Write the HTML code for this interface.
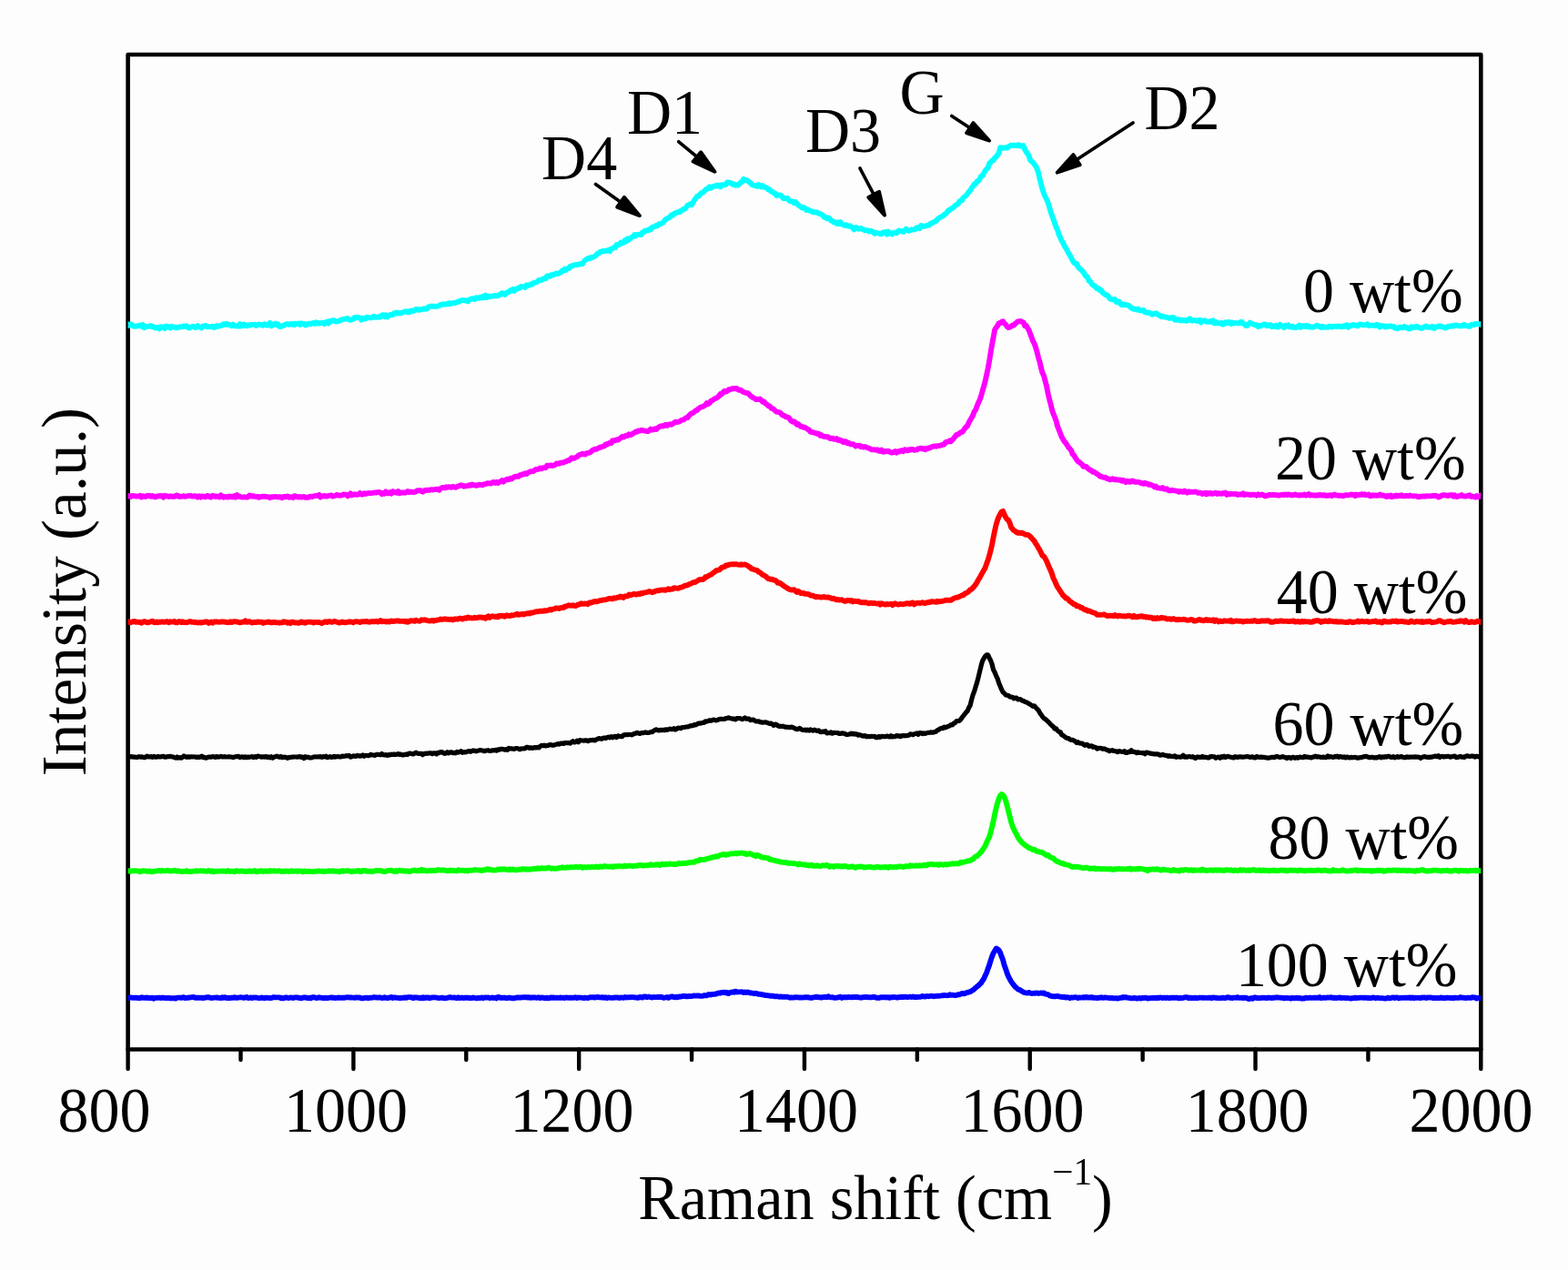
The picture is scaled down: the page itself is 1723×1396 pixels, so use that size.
<!DOCTYPE html>
<html lang="en">
<head>
<meta charset="utf-8">
<title>Raman spectra</title>
<style>
html,body{margin:0;padding:0;background:#fdfdfd;}
body{width:1723px;height:1396px;overflow:hidden;}
svg{display:block;}
text{font-family:"Liberation Serif",serif;fill:#000;}
.t{font-size:68px;}
.s{font-size:41px;}
</style>
</head>
<body>

<svg width="1723" height="1396" viewBox="0 0 1723 1396">
<rect x="0" y="0" width="1723" height="1396" fill="#fdfdfd"/>
<rect x="140.6" y="60.0" width="1486.7" height="1093.5" fill="none" stroke="#000" stroke-width="4.6" stroke-linejoin="round"/>
<clipPath id="clip"><rect x="140.6" y="60.0" width="1486.7" height="1093.5"/></clipPath>
<g clip-path="url(#clip)">
<path d="M137.6,1096.3 139.1,1096.7 140.6,1096.7 142.1,1097.0 143.6,1096.5 145.1,1096.7 146.6,1096.9 148.1,1096.7 149.6,1096.6 151.1,1097.0 152.6,1096.8 154.1,1097.1 155.6,1096.3 157.1,1096.8 158.6,1096.6 160.1,1097.0 161.6,1096.4 163.1,1097.0 164.6,1096.8 166.1,1097.0 167.6,1096.7 169.1,1097.7 170.6,1096.9 172.1,1096.9 173.6,1096.8 175.1,1096.6 176.6,1097.0 178.1,1096.7 179.6,1096.6 181.1,1097.0 182.6,1097.2 184.1,1097.0 185.6,1096.9 187.1,1097.3 188.6,1097.1 190.1,1097.3 191.6,1097.2 193.1,1097.6 194.6,1096.6 196.1,1096.6 197.6,1096.6 199.1,1096.8 200.6,1096.5 202.1,1096.2 203.6,1097.1 205.1,1096.9 206.6,1096.8 208.1,1096.5 209.6,1096.4 211.1,1096.1 212.6,1096.0 214.1,1096.7 215.6,1096.8 217.1,1096.7 218.6,1096.8 220.1,1096.9 221.6,1096.6 223.1,1097.1 224.6,1096.7 226.1,1096.6 227.6,1096.2 229.1,1096.2 230.6,1096.6 232.1,1097.0 233.6,1096.9 235.1,1096.6 236.6,1096.6 238.1,1096.5 239.6,1096.8 241.1,1096.9 242.6,1097.1 244.1,1096.2 245.6,1096.9 247.1,1096.2 248.6,1097.0 250.1,1097.0 251.6,1096.8 253.1,1097.1 254.6,1096.7 256.1,1096.8 257.6,1096.2 259.1,1096.9 260.6,1096.7 262.1,1096.6 263.6,1096.4 265.1,1096.3 266.6,1096.6 268.1,1096.9 269.6,1096.4 271.1,1096.0 272.6,1097.0 274.1,1096.8 275.6,1096.5 277.1,1097.1 278.6,1096.5 280.1,1096.7 281.6,1096.5 283.1,1096.9 284.6,1097.1 286.1,1097.0 287.6,1096.4 289.1,1097.0 290.6,1097.2 292.1,1096.6 293.6,1096.9 295.1,1096.8 296.6,1097.1 298.1,1097.0 299.6,1096.5 301.1,1096.2 302.6,1096.4 304.1,1096.4 305.6,1096.4 307.1,1096.4 308.6,1097.3 310.1,1097.0 311.6,1097.3 313.1,1096.7 314.6,1096.4 316.1,1096.8 317.6,1097.0 319.1,1096.5 320.6,1096.7 322.1,1097.0 323.6,1096.5 325.1,1096.4 326.6,1096.4 328.1,1096.9 329.6,1097.0 331.1,1097.3 332.6,1096.7 334.1,1096.5 335.6,1096.4 337.1,1096.8 338.6,1097.2 340.1,1096.7 341.6,1097.2 343.1,1096.2 344.6,1096.2 346.1,1096.4 347.6,1097.0 349.1,1096.9 350.6,1096.3 352.1,1096.6 353.6,1096.9 355.1,1097.2 356.6,1096.8 358.1,1097.0 359.6,1097.2 361.1,1096.8 362.6,1096.6 364.1,1096.4 365.6,1096.9 367.1,1096.7 368.6,1097.0 370.1,1096.9 371.6,1096.5 373.1,1096.8 374.6,1096.6 376.1,1096.8 377.6,1096.7 379.1,1096.7 380.6,1096.4 382.1,1096.1 383.6,1096.5 385.1,1096.3 386.6,1096.5 388.1,1096.6 389.6,1096.8 391.1,1096.4 392.6,1096.5 394.1,1096.7 395.6,1096.5 397.1,1097.3 398.6,1097.4 400.1,1097.0 401.6,1096.9 403.1,1096.6 404.6,1097.3 406.1,1096.8 407.6,1096.8 409.1,1096.6 410.6,1096.2 412.1,1096.3 413.6,1096.5 415.1,1096.7 416.6,1096.5 418.1,1096.5 419.6,1097.1 421.1,1096.9 422.6,1096.3 424.1,1096.9 425.6,1097.0 427.1,1096.8 428.6,1096.4 430.1,1096.0 431.6,1097.0 433.1,1096.5 434.6,1096.5 436.1,1096.9 437.6,1096.9 439.1,1097.2 440.6,1097.0 442.1,1096.8 443.6,1096.8 445.1,1096.4 446.6,1096.8 448.1,1096.1 449.6,1096.1 451.1,1096.2 452.6,1096.5 454.1,1097.2 455.6,1096.3 457.1,1096.5 458.6,1096.5 460.1,1097.0 461.6,1096.7 463.1,1097.3 464.6,1096.2 466.1,1097.2 467.6,1096.5 469.1,1096.8 470.6,1096.4 472.1,1097.3 473.6,1096.6 475.1,1096.5 476.6,1096.4 478.1,1096.4 479.6,1096.6 481.1,1096.9 482.6,1097.1 484.1,1096.9 485.6,1096.7 487.1,1097.1 488.6,1097.2 490.1,1097.1 491.6,1096.8 493.1,1096.4 494.6,1096.2 496.1,1096.6 497.6,1096.6 499.1,1096.5 500.6,1096.8 502.1,1097.2 503.6,1096.3 505.1,1097.0 506.6,1096.8 508.1,1096.7 509.6,1097.1 511.1,1096.7 512.6,1096.8 514.1,1096.7 515.6,1097.1 517.1,1096.9 518.6,1097.1 520.1,1096.5 521.6,1096.9 523.1,1097.2 524.6,1097.2 526.1,1096.8 527.6,1097.0 529.1,1096.5 530.6,1097.2 532.1,1096.6 533.6,1096.4 535.1,1096.6 536.6,1096.4 538.1,1097.0 539.6,1096.9 541.1,1096.5 542.6,1097.0 544.1,1096.6 545.6,1097.4 547.1,1096.0 548.6,1096.2 550.1,1097.0 551.6,1096.6 553.1,1096.8 554.6,1096.7 556.1,1097.1 557.6,1097.1 559.1,1096.7 560.6,1096.8 562.1,1097.3 563.6,1097.3 565.1,1097.2 566.6,1096.8 568.1,1096.5 569.6,1096.4 571.1,1096.7 572.6,1096.5 574.1,1096.4 575.6,1096.2 577.1,1096.3 578.6,1096.2 580.1,1096.6 581.6,1096.2 583.1,1096.8 584.6,1096.5 586.1,1096.3 587.6,1096.5 589.1,1096.7 590.6,1096.7 592.1,1096.3 593.6,1097.1 595.1,1096.5 596.6,1096.6 598.1,1097.1 599.6,1097.2 601.1,1096.6 602.6,1097.3 604.1,1096.9 605.6,1096.4 607.1,1096.8 608.6,1096.5 610.1,1096.9 611.6,1096.7 613.1,1096.9 614.6,1096.8 616.1,1096.5 617.6,1096.9 619.1,1096.7 620.6,1097.0 622.1,1096.5 623.6,1096.7 625.1,1096.8 626.6,1096.7 628.1,1096.7 629.6,1096.9 631.1,1096.5 632.6,1096.3 634.1,1097.0 635.6,1096.5 637.1,1096.6 638.6,1096.6 640.1,1096.9 641.6,1097.1 643.1,1096.6 644.6,1096.9 646.1,1097.0 647.6,1096.4 649.1,1096.2 650.6,1096.4 652.1,1096.2 653.6,1096.6 655.1,1096.2 656.6,1096.0 658.1,1096.3 659.6,1096.4 661.1,1096.6 662.6,1096.1 664.1,1096.8 665.6,1096.3 667.1,1097.0 668.6,1096.4 670.1,1096.7 671.6,1096.9 673.1,1096.7 674.6,1096.7 676.1,1096.5 677.6,1096.4 679.1,1096.5 680.6,1097.0 682.1,1096.5 683.6,1096.6 685.1,1096.8 686.6,1096.0 688.1,1096.5 689.6,1096.3 691.1,1096.4 692.6,1096.2 694.1,1096.1 695.6,1096.1 697.1,1096.4 698.6,1096.5 700.1,1096.7 701.6,1096.8 703.1,1095.9 704.6,1096.4 706.1,1096.5 707.6,1095.4 709.1,1095.4 710.6,1096.3 712.1,1095.8 713.6,1095.7 715.1,1096.2 716.6,1096.5 718.1,1096.0 719.6,1096.1 721.1,1096.1 722.6,1095.8 724.1,1096.2 725.6,1095.8 727.1,1096.0 728.6,1096.7 730.1,1096.7 731.6,1096.4 733.1,1096.0 734.6,1096.8 736.1,1096.0 737.6,1095.5 739.1,1095.4 740.6,1096.2 742.1,1096.4 743.6,1095.6 745.1,1096.2 746.6,1095.5 748.1,1095.6 749.6,1095.2 751.1,1094.8 752.6,1095.0 754.1,1095.3 755.6,1095.3 757.1,1095.0 758.6,1095.1 760.1,1095.0 761.6,1094.7 763.1,1094.5 764.6,1094.6 766.1,1094.5 767.6,1094.5 769.1,1094.8 770.6,1094.9 772.1,1094.8 773.6,1094.1 775.1,1094.2 776.6,1094.4 778.1,1093.3 779.6,1093.2 781.1,1093.5 782.6,1093.0 784.1,1092.9 785.6,1092.8 787.1,1092.4 788.6,1091.8 790.1,1091.5 791.6,1091.7 793.1,1091.0 794.6,1091.1 796.1,1090.7 797.6,1091.5 799.1,1090.9 800.6,1092.0 802.1,1090.9 803.6,1090.9 805.1,1090.4 806.6,1090.7 808.1,1089.7 809.6,1090.5 811.1,1090.4 812.6,1090.4 814.1,1090.4 815.6,1090.3 817.1,1091.0 818.6,1090.5 820.1,1091.0 821.6,1090.5 823.1,1091.0 824.6,1091.6 826.1,1091.5 827.6,1091.9 829.1,1092.2 830.6,1091.8 832.1,1092.3 833.6,1092.9 835.1,1092.8 836.6,1093.3 838.1,1093.3 839.6,1093.6 841.1,1094.1 842.6,1094.1 844.1,1094.4 845.6,1094.5 847.1,1094.8 848.6,1094.6 850.1,1095.0 851.6,1095.3 853.1,1095.1 854.6,1095.3 856.1,1095.8 857.6,1095.4 859.1,1095.7 860.6,1095.8 862.1,1095.6 863.6,1095.9 865.1,1095.7 866.6,1096.2 868.1,1096.7 869.6,1096.4 871.1,1096.6 872.6,1096.5 874.1,1096.1 875.6,1096.4 877.1,1096.3 878.6,1096.5 880.1,1096.5 881.6,1096.6 883.1,1096.4 884.6,1096.2 886.1,1096.1 887.6,1096.2 889.1,1096.6 890.6,1096.7 892.1,1096.8 893.6,1096.4 895.1,1096.2 896.6,1095.8 898.1,1095.9 899.6,1096.3 901.1,1096.3 902.6,1096.6 904.1,1096.1 905.6,1096.0 907.1,1096.0 908.6,1096.2 910.1,1095.2 911.6,1096.0 913.1,1096.4 914.6,1096.2 916.1,1096.6 917.6,1096.9 919.1,1096.6 920.6,1096.5 922.1,1096.1 923.6,1095.7 925.1,1096.9 926.6,1096.2 928.1,1096.2 929.6,1096.3 931.1,1096.3 932.6,1096.0 934.1,1096.1 935.6,1096.3 937.1,1096.0 938.6,1096.2 940.1,1095.9 941.6,1095.9 943.1,1096.4 944.6,1096.4 946.1,1096.7 947.6,1096.2 949.1,1096.2 950.6,1095.9 952.1,1096.0 953.6,1096.2 955.1,1096.3 956.6,1096.4 958.1,1096.3 959.6,1095.8 961.1,1096.0 962.6,1096.7 964.1,1096.6 965.6,1097.0 967.1,1096.5 968.6,1096.2 970.1,1096.2 971.6,1096.2 973.1,1096.2 974.6,1096.5 976.1,1096.1 977.6,1096.9 979.1,1096.2 980.6,1096.3 982.1,1096.0 983.6,1096.1 985.1,1096.5 986.6,1096.6 988.1,1095.9 989.6,1096.2 991.1,1095.7 992.6,1096.0 994.1,1095.8 995.6,1095.8 997.1,1096.1 998.6,1095.9 1000.1,1095.6 1001.6,1096.0 1003.1,1095.5 1004.6,1096.1 1006.1,1095.8 1007.6,1096.1 1009.1,1095.9 1010.6,1095.9 1012.1,1095.7 1013.6,1094.9 1015.1,1095.3 1016.6,1095.6 1018.1,1094.9 1019.6,1095.1 1021.1,1095.2 1022.6,1094.9 1024.1,1094.8 1025.6,1095.2 1027.1,1095.1 1028.6,1094.8 1030.1,1094.6 1031.6,1094.9 1033.1,1094.6 1034.6,1094.4 1036.1,1094.3 1037.6,1094.0 1039.1,1094.1 1040.6,1094.4 1042.1,1094.2 1043.6,1093.3 1045.1,1093.9 1046.6,1093.8 1048.1,1093.9 1049.6,1094.2 1051.1,1093.9 1052.6,1093.3 1054.1,1093.3 1055.6,1092.6 1057.1,1091.9 1058.6,1092.4 1060.1,1092.1 1061.6,1091.3 1063.1,1091.0 1064.6,1090.4 1066.1,1090.3 1067.6,1089.1 1069.1,1088.3 1070.6,1087.2 1072.1,1085.7 1073.6,1084.4 1075.1,1083.5 1076.6,1081.8 1078.1,1080.5 1079.6,1078.0 1081.1,1075.8 1082.6,1072.4 1084.1,1069.3 1085.6,1064.9 1087.1,1060.9 1088.6,1055.9 1090.1,1051.4 1091.6,1047.7 1093.1,1045.3 1094.6,1042.6 1096.1,1043.2 1097.6,1044.5 1099.1,1047.2 1100.6,1051.4 1102.1,1055.2 1103.6,1060.9 1105.1,1065.1 1106.6,1069.6 1108.1,1073.3 1109.6,1076.1 1111.1,1078.9 1112.6,1081.0 1114.1,1083.0 1115.6,1084.7 1117.1,1086.0 1118.6,1087.5 1120.1,1087.8 1121.6,1088.8 1123.1,1089.6 1124.6,1090.7 1126.1,1091.1 1127.6,1091.4 1129.1,1091.6 1130.6,1090.9 1132.1,1091.6 1133.6,1092.0 1135.1,1091.9 1136.6,1091.8 1138.1,1091.7 1139.6,1091.5 1141.1,1092.0 1142.6,1091.6 1144.1,1091.4 1145.6,1091.8 1147.1,1091.4 1148.6,1092.6 1150.1,1092.9 1151.6,1093.1 1153.1,1094.3 1154.6,1094.7 1156.1,1095.1 1157.6,1095.3 1159.1,1095.2 1160.6,1095.2 1162.1,1094.9 1163.6,1095.4 1165.1,1095.7 1166.6,1095.7 1168.1,1096.2 1169.6,1095.8 1171.1,1096.5 1172.6,1096.2 1174.1,1096.4 1175.6,1097.2 1177.1,1096.5 1178.6,1096.7 1180.1,1096.4 1181.6,1096.2 1183.1,1096.4 1184.6,1097.1 1186.1,1096.4 1187.6,1096.6 1189.1,1096.6 1190.6,1096.2 1192.1,1096.6 1193.6,1095.8 1195.1,1096.5 1196.6,1096.3 1198.1,1096.6 1199.6,1096.1 1201.1,1096.7 1202.6,1096.8 1204.1,1096.8 1205.6,1097.1 1207.1,1096.6 1208.6,1096.7 1210.1,1096.2 1211.6,1096.7 1213.1,1096.7 1214.6,1096.4 1216.1,1096.7 1217.6,1096.9 1219.1,1097.0 1220.6,1097.1 1222.1,1097.0 1223.6,1097.3 1225.1,1097.4 1226.6,1097.2 1228.1,1097.5 1229.6,1097.3 1231.1,1096.8 1232.6,1096.9 1234.1,1096.0 1235.6,1096.5 1237.1,1096.2 1238.6,1096.6 1240.1,1096.9 1241.6,1097.0 1243.1,1097.4 1244.6,1097.4 1246.1,1096.8 1247.6,1097.2 1249.1,1097.6 1250.6,1097.3 1252.1,1097.0 1253.6,1097.5 1255.1,1096.8 1256.6,1097.1 1258.1,1096.8 1259.6,1096.8 1261.1,1097.5 1262.6,1097.2 1264.1,1097.2 1265.6,1097.0 1267.1,1097.0 1268.6,1096.8 1270.1,1097.1 1271.6,1096.7 1273.1,1097.1 1274.6,1096.5 1276.1,1096.7 1277.6,1097.0 1279.1,1096.6 1280.6,1097.0 1282.1,1096.7 1283.6,1096.8 1285.1,1097.2 1286.6,1096.7 1288.1,1096.7 1289.6,1096.7 1291.1,1096.7 1292.6,1096.8 1294.1,1096.8 1295.6,1097.4 1297.1,1096.8 1298.6,1097.1 1300.1,1096.8 1301.6,1096.4 1303.1,1096.2 1304.6,1096.2 1306.1,1097.1 1307.6,1096.6 1309.1,1097.1 1310.6,1097.0 1312.1,1097.1 1313.6,1096.7 1315.1,1097.2 1316.6,1097.0 1318.1,1096.6 1319.6,1096.6 1321.1,1096.8 1322.6,1096.8 1324.1,1096.9 1325.6,1096.9 1327.1,1096.9 1328.6,1096.7 1330.1,1096.6 1331.6,1097.2 1333.1,1096.5 1334.6,1096.7 1336.1,1096.7 1337.6,1097.1 1339.1,1097.1 1340.6,1097.1 1342.1,1097.0 1343.6,1096.7 1345.1,1097.0 1346.6,1097.1 1348.1,1096.4 1349.6,1096.2 1351.1,1096.8 1352.6,1096.8 1354.1,1097.1 1355.6,1096.6 1357.1,1096.6 1358.6,1096.7 1360.1,1096.1 1361.6,1096.8 1363.1,1096.9 1364.6,1096.7 1366.1,1097.1 1367.6,1096.6 1369.1,1096.9 1370.6,1097.4 1372.1,1098.1 1373.6,1097.6 1375.1,1097.1 1376.6,1097.7 1378.1,1096.4 1379.6,1096.4 1381.1,1097.1 1382.6,1097.0 1384.1,1097.1 1385.6,1097.0 1387.1,1096.6 1388.6,1096.9 1390.1,1096.8 1391.6,1097.1 1393.1,1096.7 1394.6,1096.8 1396.1,1096.9 1397.6,1097.0 1399.1,1096.7 1400.6,1096.7 1402.1,1096.5 1403.6,1096.3 1405.1,1096.6 1406.6,1096.6 1408.1,1096.9 1409.6,1096.9 1411.1,1097.4 1412.6,1097.1 1414.1,1096.9 1415.6,1097.1 1417.1,1097.1 1418.6,1097.6 1420.1,1096.7 1421.6,1097.2 1423.1,1097.2 1424.6,1096.8 1426.1,1097.3 1427.6,1096.9 1429.1,1097.4 1430.6,1097.7 1432.1,1097.3 1433.6,1097.5 1435.1,1096.6 1436.6,1097.0 1438.1,1096.9 1439.6,1096.6 1441.1,1096.9 1442.6,1096.9 1444.1,1096.6 1445.6,1096.9 1447.1,1096.6 1448.6,1096.8 1450.1,1096.1 1451.6,1097.1 1453.1,1096.8 1454.6,1096.7 1456.1,1096.6 1457.6,1096.7 1459.1,1096.5 1460.6,1096.6 1462.1,1096.3 1463.6,1096.4 1465.1,1097.0 1466.6,1096.7 1468.1,1097.1 1469.6,1096.8 1471.1,1096.8 1472.6,1096.5 1474.1,1097.1 1475.6,1096.9 1477.1,1096.9 1478.6,1097.1 1480.1,1097.0 1481.6,1097.1 1483.1,1097.3 1484.6,1097.5 1486.1,1097.2 1487.6,1097.1 1489.1,1096.7 1490.6,1097.1 1492.1,1096.9 1493.6,1096.8 1495.1,1096.6 1496.6,1096.6 1498.1,1096.8 1499.6,1096.8 1501.1,1096.6 1502.6,1097.0 1504.1,1097.0 1505.6,1097.1 1507.1,1097.0 1508.6,1096.5 1510.1,1096.7 1511.6,1097.2 1513.1,1096.8 1514.6,1096.9 1516.1,1097.1 1517.6,1097.1 1519.1,1097.2 1520.6,1097.4 1522.1,1097.6 1523.6,1097.3 1525.1,1096.6 1526.6,1097.3 1528.1,1097.1 1529.6,1096.7 1531.1,1096.4 1532.6,1097.1 1534.1,1096.5 1535.6,1096.5 1537.1,1097.3 1538.6,1096.9 1540.1,1096.9 1541.6,1096.8 1543.1,1096.9 1544.6,1096.6 1546.1,1096.7 1547.6,1096.8 1549.1,1096.4 1550.6,1097.1 1552.1,1096.4 1553.6,1097.3 1555.1,1096.6 1556.6,1096.9 1558.1,1096.9 1559.6,1096.8 1561.1,1097.1 1562.6,1096.5 1564.1,1096.7 1565.6,1096.5 1567.1,1097.0 1568.6,1096.4 1570.1,1096.6 1571.6,1096.5 1573.1,1096.7 1574.6,1097.0 1576.1,1097.0 1577.6,1097.0 1579.1,1097.1 1580.6,1097.0 1582.1,1097.0 1583.6,1096.4 1585.1,1097.2 1586.6,1096.8 1588.1,1097.2 1589.6,1096.7 1591.1,1096.8 1592.6,1096.9 1594.1,1097.0 1595.6,1096.9 1597.1,1097.2 1598.6,1096.6 1600.1,1096.9 1601.6,1096.9 1603.1,1096.9 1604.6,1096.2 1606.1,1096.5 1607.6,1096.7 1609.1,1096.8 1610.6,1097.0 1612.1,1096.8 1613.6,1096.6 1615.1,1096.8 1616.6,1096.9 1618.1,1096.1 1619.6,1096.5 1621.1,1096.5 1622.6,1097.5 1624.1,1096.9 1625.6,1097.1 1627.1,1097.3 1628.6,1096.8 1630.1,1096.9" fill="none" stroke="#0000ff" stroke-width="5.9" stroke-linejoin="round" stroke-linecap="butt"/>
<path d="M137.6,957.8 139.1,957.7 140.6,957.1 142.1,957.5 143.6,957.8 145.1,957.1 146.6,957.3 148.1,957.1 149.6,957.1 151.1,957.5 152.6,957.6 154.1,958.2 155.6,957.6 157.1,957.1 158.6,957.3 160.1,957.4 161.6,957.8 163.1,957.9 164.6,957.4 166.1,958.2 167.6,958.2 169.1,957.9 170.6,957.7 172.1,957.3 173.6,957.2 175.1,956.9 176.6,957.5 178.1,956.8 179.6,957.4 181.1,957.4 182.6,957.2 184.1,956.7 185.6,957.2 187.1,957.5 188.6,957.3 190.1,957.4 191.6,956.8 193.1,957.3 194.6,957.6 196.1,957.2 197.6,957.7 199.1,958.0 200.6,958.0 202.1,957.9 203.6,957.8 205.1,957.1 206.6,958.1 208.1,957.8 209.6,958.2 211.1,957.8 212.6,957.6 214.1,957.6 215.6,957.2 217.1,957.6 218.6,957.4 220.1,957.3 221.6,957.4 223.1,957.1 224.6,957.6 226.1,957.6 227.6,957.7 229.1,957.0 230.6,957.3 232.1,958.0 233.6,957.2 235.1,958.2 236.6,957.7 238.1,957.8 239.6,957.6 241.1,957.6 242.6,957.4 244.1,957.6 245.6,957.5 247.1,957.7 248.6,957.8 250.1,957.0 251.6,957.7 253.1,957.8 254.6,957.6 256.1,957.9 257.6,958.2 259.1,957.2 260.6,957.2 262.1,957.7 263.6,957.6 265.1,957.4 266.6,957.5 268.1,957.8 269.6,958.1 271.1,957.6 272.6,957.7 274.1,957.3 275.6,957.9 277.1,957.9 278.6,957.4 280.1,957.0 281.6,958.3 283.1,958.2 284.6,957.5 286.1,957.5 287.6,957.2 289.1,958.0 290.6,957.4 292.1,957.7 293.6,957.5 295.1,957.8 296.6,957.0 298.1,957.6 299.6,957.3 301.1,957.1 302.6,957.6 304.1,957.5 305.6,957.3 307.1,957.2 308.6,957.9 310.1,958.1 311.6,957.7 313.1,957.8 314.6,957.5 316.1,957.7 317.6,958.0 319.1,957.6 320.6,957.2 322.1,957.9 323.6,957.7 325.1,957.5 326.6,957.8 328.1,957.5 329.6,957.6 331.1,957.4 332.6,958.4 334.1,957.8 335.6,957.5 337.1,958.0 338.6,957.8 340.1,957.8 341.6,958.0 343.1,958.2 344.6,958.0 346.1,957.8 347.6,957.8 349.1,957.4 350.6,957.5 352.1,957.7 353.6,957.9 355.1,957.5 356.6,958.0 358.1,957.9 359.6,957.7 361.1,957.2 362.6,957.5 364.1,957.6 365.6,957.1 367.1,957.6 368.6,957.7 370.1,957.9 371.6,957.8 373.1,958.4 374.6,957.6 376.1,957.1 377.6,957.7 379.1,957.3 380.6,957.1 382.1,957.2 383.6,957.1 385.1,957.8 386.6,958.2 388.1,957.5 389.6,957.9 391.1,957.7 392.6,957.1 394.1,956.9 395.6,958.1 397.1,958.0 398.6,956.9 400.1,957.1 401.6,956.9 403.1,957.7 404.6,957.7 406.1,957.8 407.6,957.7 409.1,958.2 410.6,957.5 412.1,957.4 413.6,956.8 415.1,957.0 416.6,957.1 418.1,956.8 419.6,957.5 421.1,957.8 422.6,958.0 424.1,957.8 425.6,957.1 427.1,957.0 428.6,956.9 430.1,956.6 431.6,957.5 433.1,957.8 434.6,957.0 436.1,958.0 437.6,957.0 439.1,956.7 440.6,957.3 442.1,957.2 443.6,957.5 445.1,957.2 446.6,957.7 448.1,957.3 449.6,958.0 451.1,957.8 452.6,957.0 454.1,956.9 455.6,956.5 457.1,957.2 458.6,957.3 460.1,956.6 461.6,957.2 463.1,955.9 464.6,957.1 466.1,956.4 467.6,957.2 469.1,957.2 470.6,957.4 472.1,956.8 473.6,957.3 475.1,956.9 476.6,956.8 478.1,957.1 479.6,957.0 481.1,956.0 482.6,956.4 484.1,956.5 485.6,956.7 487.1,956.3 488.6,956.5 490.1,957.1 491.6,957.2 493.1,957.2 494.6,956.4 496.1,957.1 497.6,956.7 499.1,957.2 500.6,957.4 502.1,957.4 503.6,956.2 505.1,956.6 506.6,956.8 508.1,956.6 509.6,956.9 511.1,957.3 512.6,956.8 514.1,957.5 515.6,956.7 517.1,956.7 518.6,956.7 520.1,956.4 521.6,956.0 523.1,956.3 524.6,956.4 526.1,956.6 527.6,956.3 529.1,957.0 530.6,956.3 532.1,956.6 533.6,956.1 535.1,955.3 536.6,955.2 538.1,956.2 539.6,955.9 541.1,956.5 542.6,956.4 544.1,956.6 545.6,956.4 547.1,955.5 548.6,955.9 550.1,955.3 551.6,955.8 553.1,955.2 554.6,955.4 556.1,955.9 557.6,955.9 559.1,956.3 560.6,955.4 562.1,956.3 563.6,955.4 565.1,956.2 566.6,956.1 568.1,956.2 569.6,956.1 571.1,955.6 572.6,955.8 574.1,955.0 575.6,955.5 577.1,955.1 578.6,955.8 580.1,955.3 581.6,955.7 583.1,955.6 584.6,955.1 586.1,955.1 587.6,954.9 589.1,955.1 590.6,954.2 592.1,954.9 593.6,954.9 595.1,954.0 596.6,954.6 598.1,954.5 599.6,954.3 601.1,954.5 602.6,953.6 604.1,954.1 605.6,954.8 607.1,954.5 608.6,954.7 610.1,954.6 611.6,954.7 613.1,954.5 614.6,953.8 616.1,954.1 617.6,953.3 619.1,953.7 620.6,953.6 622.1,953.8 623.6,953.3 625.1,953.5 626.6,953.3 628.1,953.3 629.6,953.4 631.1,953.4 632.6,952.6 634.1,953.1 635.6,953.2 637.1,952.7 638.6,952.8 640.1,953.9 641.6,953.0 643.1,953.5 644.6,953.3 646.1,953.0 647.6,953.3 649.1,953.2 650.6,952.9 652.1,953.2 653.6,953.1 655.1,952.5 656.6,953.0 658.1,953.3 659.6,952.4 661.1,952.9 662.6,952.9 664.1,952.0 665.6,952.3 667.1,952.5 668.6,952.7 670.1,952.6 671.6,952.4 673.1,953.2 674.6,952.1 676.1,952.6 677.6,952.1 679.1,952.3 680.6,952.0 682.1,952.1 683.6,952.3 685.1,952.4 686.6,951.5 688.1,952.3 689.6,951.7 691.1,951.8 692.6,951.7 694.1,951.6 695.6,952.3 697.1,951.8 698.6,951.7 700.1,951.6 701.6,951.1 703.1,950.9 704.6,951.0 706.1,951.7 707.6,951.4 709.1,951.2 710.6,951.1 712.1,951.4 713.6,950.9 715.1,950.2 716.6,950.9 718.1,950.8 719.6,950.5 721.1,950.6 722.6,950.2 724.1,950.6 725.6,951.1 727.1,949.8 728.6,949.8 730.1,950.4 731.6,949.6 733.1,950.2 734.6,949.9 736.1,949.4 737.6,949.9 739.1,949.9 740.6,949.6 742.1,950.2 743.6,949.8 745.1,949.2 746.6,948.8 748.1,949.1 749.6,949.0 751.1,948.8 752.6,949.0 754.1,948.9 755.6,948.4 757.1,948.3 758.6,947.9 760.1,947.9 761.6,947.7 763.1,947.7 764.6,946.4 766.1,946.3 767.6,946.1 769.1,944.9 770.6,944.8 772.1,945.0 773.6,945.1 775.1,944.4 776.6,944.1 778.1,943.7 779.6,943.2 781.1,942.9 782.6,942.3 784.1,942.0 785.6,941.9 787.1,941.1 788.6,941.6 790.1,940.6 791.6,939.9 793.1,939.7 794.6,939.1 796.1,939.0 797.6,939.9 799.1,939.3 800.6,939.0 802.1,938.7 803.6,938.3 805.1,938.4 806.6,938.3 808.1,937.6 809.6,938.5 811.1,937.6 812.6,937.8 814.1,937.6 815.6,937.4 817.1,938.0 818.6,937.9 820.1,939.1 821.6,938.6 823.1,938.5 824.6,938.2 826.1,939.1 827.6,940.1 829.1,940.2 830.6,941.2 832.1,939.7 833.6,940.6 835.1,941.2 836.6,942.1 838.1,942.5 839.6,942.8 841.1,942.8 842.6,943.3 844.1,943.2 845.6,944.7 847.1,944.7 848.6,945.3 850.1,945.6 851.6,946.0 853.1,946.6 854.6,946.5 856.1,947.0 857.6,947.6 859.1,947.5 860.6,947.9 862.1,948.2 863.6,947.8 865.1,948.7 866.6,948.6 868.1,948.9 869.6,948.9 871.1,949.2 872.6,949.0 874.1,949.4 875.6,949.7 877.1,950.5 878.6,949.3 880.1,950.0 881.6,950.4 883.1,950.5 884.6,950.3 886.1,951.0 887.6,951.0 889.1,951.6 890.6,950.9 892.1,950.7 893.6,951.8 895.1,951.8 896.6,951.9 898.1,951.3 899.6,951.9 901.1,952.1 902.6,951.8 904.1,951.1 905.6,951.5 907.1,951.3 908.6,950.8 910.1,951.7 911.6,952.7 913.1,952.1 914.6,952.2 916.1,952.9 917.6,951.9 919.1,951.9 920.6,952.0 922.1,952.0 923.6,952.5 925.1,952.2 926.6,952.6 928.1,951.8 929.6,952.3 931.1,952.8 932.6,953.1 934.1,952.6 935.6,952.9 937.1,952.3 938.6,953.1 940.1,953.9 941.6,952.9 943.1,952.7 944.6,952.7 946.1,952.5 947.6,952.7 949.1,953.5 950.6,953.2 952.1,953.4 953.6,953.1 955.1,952.9 956.6,952.9 958.1,953.3 959.6,953.6 961.1,953.5 962.6,953.0 964.1,953.0 965.6,953.2 967.1,953.5 968.6,953.3 970.1,953.1 971.6,953.3 973.1,952.9 974.6,953.3 976.1,953.7 977.6,952.7 979.1,953.0 980.6,953.1 982.1,953.2 983.6,953.0 985.1,953.4 986.6,952.7 988.1,952.4 989.6,952.4 991.1,952.7 992.6,953.0 994.1,952.7 995.6,952.0 997.1,952.4 998.6,952.4 1000.1,951.2 1001.6,952.0 1003.1,951.6 1004.6,951.8 1006.1,951.5 1007.6,951.5 1009.1,951.8 1010.6,951.2 1012.1,951.7 1013.6,951.2 1015.1,951.2 1016.6,950.6 1018.1,951.3 1019.6,950.3 1021.1,950.2 1022.6,949.9 1024.1,949.9 1025.6,950.3 1027.1,950.4 1028.6,950.4 1030.1,950.1 1031.6,950.9 1033.1,949.9 1034.6,950.3 1036.1,950.8 1037.6,950.2 1039.1,950.2 1040.6,950.5 1042.1,950.2 1043.6,949.7 1045.1,949.6 1046.6,949.2 1048.1,949.5 1049.6,949.3 1051.1,949.2 1052.6,949.5 1054.1,949.1 1055.6,947.7 1057.1,948.1 1058.6,947.6 1060.1,947.4 1061.6,947.1 1063.1,946.5 1064.6,946.2 1066.1,946.0 1067.6,944.9 1069.1,944.3 1070.6,942.8 1072.1,941.5 1073.6,941.2 1075.1,939.6 1076.6,937.9 1078.1,936.5 1079.6,934.3 1081.1,932.1 1082.6,929.8 1084.1,926.1 1085.6,922.9 1087.1,920.1 1088.6,914.8 1090.1,908.9 1091.6,902.5 1093.1,895.0 1094.6,888.3 1096.1,882.6 1097.6,877.8 1099.1,874.6 1100.6,873.0 1102.1,874.0 1103.6,876.1 1105.1,879.9 1106.6,885.5 1108.1,891.6 1109.6,897.5 1111.1,903.6 1112.6,908.3 1114.1,911.6 1115.6,914.6 1117.1,917.2 1118.6,920.6 1120.1,922.7 1121.6,924.5 1123.1,926.2 1124.6,927.5 1126.1,928.8 1127.6,929.9 1129.1,930.8 1130.6,932.1 1132.1,932.4 1133.6,933.3 1135.1,934.2 1136.6,933.8 1138.1,935.1 1139.6,935.8 1141.1,935.9 1142.6,936.8 1144.1,936.8 1145.6,937.2 1147.1,938.3 1148.6,939.2 1150.1,940.2 1151.6,939.7 1153.1,941.5 1154.6,942.4 1156.1,943.0 1157.6,943.6 1159.1,945.2 1160.6,946.3 1162.1,947.1 1163.6,947.7 1165.1,948.4 1166.6,949.0 1168.1,948.9 1169.6,950.1 1171.1,950.3 1172.6,950.6 1174.1,950.9 1175.6,951.7 1177.1,952.4 1178.6,953.0 1180.1,952.5 1181.6,953.1 1183.1,952.9 1184.6,952.8 1186.1,953.3 1187.6,953.5 1189.1,954.0 1190.6,954.4 1192.1,953.7 1193.6,953.8 1195.1,953.7 1196.6,954.7 1198.1,954.6 1199.6,954.7 1201.1,954.8 1202.6,954.3 1204.1,955.3 1205.6,954.9 1207.1,955.0 1208.6,954.9 1210.1,955.4 1211.6,955.1 1213.1,955.0 1214.6,955.4 1216.1,955.2 1217.6,955.3 1219.1,955.4 1220.6,955.0 1222.1,955.8 1223.6,955.7 1225.1,955.1 1226.6,955.6 1228.1,955.2 1229.6,954.9 1231.1,955.1 1232.6,955.4 1234.1,955.2 1235.6,955.4 1237.1,955.4 1238.6,955.0 1240.1,955.4 1241.6,954.6 1243.1,955.7 1244.6,955.1 1246.1,955.2 1247.6,955.5 1249.1,955.0 1250.6,955.5 1252.1,954.7 1253.6,955.0 1255.1,955.1 1256.6,955.3 1258.1,956.0 1259.6,955.9 1261.1,957.1 1262.6,955.7 1264.1,955.8 1265.6,955.5 1267.1,955.4 1268.6,955.7 1270.1,955.6 1271.6,955.1 1273.1,955.8 1274.6,956.3 1276.1,956.6 1277.6,955.7 1279.1,955.8 1280.6,956.2 1282.1,956.4 1283.6,956.4 1285.1,956.6 1286.6,957.1 1288.1,957.0 1289.6,956.0 1291.1,956.7 1292.6,957.0 1294.1,957.0 1295.6,957.6 1297.1,956.5 1298.6,956.2 1300.1,956.7 1301.6,956.2 1303.1,956.0 1304.6,956.2 1306.1,956.7 1307.6,956.6 1309.1,956.1 1310.6,957.0 1312.1,956.3 1313.6,956.8 1315.1,956.6 1316.6,956.6 1318.1,956.5 1319.6,956.9 1321.1,955.5 1322.6,956.7 1324.1,956.4 1325.6,957.0 1327.1,956.9 1328.6,956.5 1330.1,956.5 1331.6,956.5 1333.1,956.8 1334.6,956.5 1336.1,956.1 1337.6,956.8 1339.1,956.2 1340.6,956.7 1342.1,956.4 1343.6,956.9 1345.1,957.0 1346.6,956.3 1348.1,956.3 1349.6,956.4 1351.1,956.5 1352.6,956.3 1354.1,956.9 1355.6,957.2 1357.1,956.5 1358.6,956.9 1360.1,957.0 1361.6,956.7 1363.1,956.0 1364.6,956.8 1366.1,956.1 1367.6,956.6 1369.1,956.7 1370.6,956.9 1372.1,956.4 1373.6,957.0 1375.1,956.4 1376.6,956.1 1378.1,956.0 1379.6,956.9 1381.1,956.9 1382.6,956.9 1384.1,956.3 1385.6,957.0 1387.1,956.9 1388.6,956.4 1390.1,957.0 1391.6,956.7 1393.1,956.9 1394.6,957.4 1396.1,956.8 1397.6,957.0 1399.1,956.5 1400.6,957.1 1402.1,956.7 1403.6,957.2 1405.1,957.0 1406.6,956.7 1408.1,956.5 1409.6,956.9 1411.1,956.5 1412.6,956.8 1414.1,957.4 1415.6,956.9 1417.1,956.6 1418.6,956.5 1420.1,956.8 1421.6,956.8 1423.1,956.6 1424.6,957.0 1426.1,957.4 1427.6,956.4 1429.1,956.7 1430.6,956.6 1432.1,956.9 1433.6,957.4 1435.1,957.1 1436.6,956.9 1438.1,956.8 1439.6,956.9 1441.1,956.7 1442.6,957.1 1444.1,957.0 1445.6,956.8 1447.1,956.9 1448.6,956.4 1450.1,956.6 1451.6,957.0 1453.1,957.1 1454.6,956.6 1456.1,956.5 1457.6,957.1 1459.1,957.2 1460.6,957.2 1462.1,957.5 1463.6,957.3 1465.1,956.1 1466.6,957.1 1468.1,956.9 1469.6,957.2 1471.1,957.4 1472.6,957.0 1474.1,957.0 1475.6,956.2 1477.1,956.9 1478.6,957.3 1480.1,957.5 1481.6,957.4 1483.1,957.4 1484.6,956.8 1486.1,957.1 1487.6,956.5 1489.1,956.7 1490.6,956.3 1492.1,957.3 1493.6,956.7 1495.1,956.6 1496.6,956.8 1498.1,957.0 1499.6,957.3 1501.1,957.1 1502.6,957.0 1504.1,957.1 1505.6,957.0 1507.1,957.8 1508.6,956.9 1510.1,957.4 1511.6,957.3 1513.1,956.7 1514.6,957.1 1516.1,956.6 1517.6,956.9 1519.1,956.8 1520.6,957.8 1522.1,957.1 1523.6,957.2 1525.1,956.6 1526.6,956.6 1528.1,956.8 1529.6,956.8 1531.1,956.5 1532.6,956.6 1534.1,956.4 1535.6,957.1 1537.1,956.5 1538.6,956.9 1540.1,957.0 1541.6,956.7 1543.1,956.6 1544.6,957.0 1546.1,957.4 1547.6,956.7 1549.1,957.1 1550.6,957.0 1552.1,957.4 1553.6,957.1 1555.1,957.8 1556.6,956.7 1558.1,957.0 1559.6,957.1 1561.1,956.5 1562.6,955.9 1564.1,956.8 1565.6,956.8 1567.1,957.5 1568.6,957.5 1570.1,957.2 1571.6,957.4 1573.1,957.0 1574.6,956.7 1576.1,956.6 1577.6,956.6 1579.1,956.8 1580.6,956.9 1582.1,957.2 1583.6,957.5 1585.1,956.9 1586.6,957.0 1588.1,957.2 1589.6,956.7 1591.1,957.0 1592.6,957.6 1594.1,957.3 1595.6,957.5 1597.1,956.8 1598.6,956.6 1600.1,956.6 1601.6,957.2 1603.1,957.7 1604.6,956.8 1606.1,956.9 1607.6,957.0 1609.1,957.3 1610.6,957.0 1612.1,957.3 1613.6,957.5 1615.1,956.8 1616.6,957.0 1618.1,957.0 1619.6,956.9 1621.1,956.5 1622.6,957.4 1624.1,956.8 1625.6,957.2 1627.1,957.4 1628.6,957.1 1630.1,957.4" fill="none" stroke="#00ff00" stroke-width="5.9" stroke-linejoin="round" stroke-linecap="butt"/>
<path d="M137.6,832.7 139.1,832.9 140.6,832.2 142.1,832.0 143.6,831.6 145.1,831.8 146.6,832.2 148.1,832.2 149.6,832.3 151.1,832.3 152.6,831.7 154.1,832.1 155.6,831.9 157.1,832.2 158.6,832.7 160.1,832.2 161.6,831.1 163.1,831.8 164.6,831.8 166.1,831.7 167.6,832.4 169.1,831.4 170.6,832.2 172.1,832.1 173.6,831.5 175.1,832.0 176.6,831.8 178.1,831.7 179.6,831.3 181.1,832.1 182.6,832.2 184.1,831.6 185.6,831.7 187.1,831.4 188.6,831.7 190.1,832.0 191.6,832.6 193.1,833.1 194.6,832.0 196.1,833.1 197.6,832.7 199.1,833.2 200.6,832.3 202.1,831.0 203.6,831.8 205.1,832.3 206.6,831.8 208.1,832.3 209.6,831.8 211.1,831.8 212.6,832.0 214.1,831.8 215.6,832.5 217.1,832.0 218.6,832.5 220.1,832.2 221.6,831.1 223.1,832.6 224.6,832.4 226.1,833.2 227.6,832.7 229.1,832.0 230.6,832.2 232.1,832.2 233.6,831.6 235.1,831.8 236.6,832.4 238.1,831.5 239.6,832.1 241.1,832.0 242.6,831.3 244.1,832.0 245.6,831.8 247.1,831.7 248.6,832.0 250.1,832.0 251.6,831.7 253.1,832.0 254.6,832.1 256.1,832.7 257.6,832.1 259.1,831.7 260.6,831.6 262.1,831.3 263.6,832.6 265.1,832.1 266.6,831.8 268.1,832.6 269.6,831.8 271.1,832.7 272.6,832.1 274.1,832.4 275.6,831.9 277.1,831.5 278.6,832.6 280.1,831.6 281.6,832.3 283.1,831.2 284.6,831.4 286.1,831.7 287.6,832.2 289.1,831.8 290.6,832.1 292.1,831.5 293.6,832.5 295.1,831.9 296.6,832.9 298.1,831.8 299.6,833.2 301.1,832.2 302.6,831.7 304.1,831.1 305.6,831.8 307.1,832.3 308.6,831.5 310.1,832.6 311.6,832.4 313.1,832.2 314.6,832.6 316.1,833.3 317.6,832.4 319.1,832.6 320.6,832.1 322.1,832.1 323.6,832.0 325.1,832.0 326.6,832.2 328.1,831.8 329.6,831.6 331.1,832.4 332.6,832.1 334.1,833.5 335.6,831.7 337.1,832.5 338.6,832.2 340.1,832.8 341.6,833.0 343.1,832.7 344.6,832.0 346.1,831.9 347.6,832.0 349.1,831.9 350.6,831.9 352.1,831.7 353.6,832.3 355.1,831.6 356.6,832.0 358.1,831.2 359.6,832.7 361.1,832.3 362.6,831.7 364.1,832.3 365.6,832.1 367.1,831.3 368.6,832.2 370.1,831.6 371.6,831.6 373.1,832.0 374.6,831.8 376.1,831.1 377.6,831.4 379.1,831.1 380.6,830.7 382.1,830.9 383.6,830.4 385.1,832.1 386.6,831.8 388.1,830.9 389.6,831.1 391.1,831.5 392.6,830.4 394.1,830.7 395.6,831.2 397.1,830.8 398.6,830.0 400.1,831.3 401.6,830.4 403.1,830.5 404.6,830.7 406.1,830.2 407.6,829.3 409.1,830.0 410.6,830.0 412.1,830.4 413.6,829.4 415.1,829.3 416.6,829.5 418.1,829.8 419.6,828.5 421.1,829.6 422.6,829.9 424.1,829.7 425.6,830.4 427.1,829.6 428.6,829.9 430.1,829.2 431.6,829.5 433.1,829.0 434.6,829.5 436.1,829.2 437.6,828.5 439.1,829.4 440.6,829.2 442.1,829.8 443.6,829.8 445.1,829.3 446.6,829.1 448.1,829.3 449.6,828.1 451.1,828.1 452.6,828.6 454.1,828.8 455.6,828.1 457.1,827.2 458.6,828.2 460.1,828.3 461.6,828.3 463.1,828.4 464.6,829.7 466.1,828.3 467.6,828.4 469.1,828.2 470.6,828.1 472.1,827.8 473.6,827.8 475.1,828.7 476.6,827.8 478.1,827.9 479.6,828.9 481.1,827.3 482.6,827.6 484.1,826.7 485.6,826.5 487.1,827.7 488.6,828.4 490.1,827.8 491.6,826.7 493.1,827.9 494.6,826.9 496.1,826.9 497.6,827.7 499.1,827.4 500.6,827.8 502.1,826.5 503.6,827.1 505.1,826.6 506.6,825.7 508.1,827.3 509.6,826.5 511.1,826.9 512.6,826.5 514.1,825.9 515.6,825.5 517.1,826.3 518.6,825.4 520.1,824.9 521.6,825.3 523.1,825.8 524.6,825.3 526.1,825.0 527.6,824.5 529.1,824.8 530.6,825.0 532.1,825.7 533.6,825.2 535.1,825.0 536.6,824.7 538.1,825.5 539.6,825.2 541.1,824.8 542.6,824.9 544.1,824.4 545.6,825.1 547.1,823.9 548.6,824.2 550.1,823.4 551.6,823.4 553.1,823.6 554.6,824.2 556.1,823.5 557.6,824.4 559.1,822.4 560.6,822.9 562.1,822.9 563.6,823.2 565.1,823.3 566.6,822.7 568.1,822.6 569.6,823.0 571.1,823.8 572.6,822.9 574.1,823.0 575.6,822.8 577.1,822.6 578.6,821.4 580.1,821.3 581.6,822.3 583.1,821.8 584.6,822.3 586.1,822.1 587.6,821.5 589.1,822.0 590.6,821.3 592.1,821.9 593.6,820.3 595.1,819.3 596.6,819.7 598.1,819.2 599.6,820.0 601.1,819.4 602.6,819.4 604.1,818.7 605.6,818.7 607.1,819.2 608.6,819.2 610.1,818.5 611.6,818.2 613.1,817.5 614.6,818.1 616.1,817.1 617.6,817.2 619.1,817.5 620.6,816.5 622.1,816.7 623.6,816.7 625.1,816.6 626.6,817.2 628.1,815.7 629.6,814.7 631.1,815.9 632.6,815.6 634.1,814.3 635.6,815.7 637.1,813.7 638.6,813.9 640.1,814.0 641.6,814.2 643.1,813.8 644.6,813.9 646.1,814.6 647.6,813.9 649.1,813.7 650.6,813.6 652.1,813.3 653.6,814.0 655.1,813.0 656.6,812.2 658.1,811.7 659.6,811.9 661.1,812.3 662.6,811.3 664.1,811.0 665.6,811.6 667.1,810.6 668.6,810.2 670.1,810.9 671.6,809.6 673.1,810.9 674.6,809.6 676.1,809.4 677.6,810.6 679.1,808.9 680.6,809.2 682.1,809.6 683.6,809.7 685.1,808.1 686.6,807.7 688.1,807.7 689.6,807.6 691.1,807.5 692.6,807.4 694.1,807.9 695.6,807.2 697.1,806.4 698.6,806.2 700.1,805.3 701.6,805.9 703.1,806.5 704.6,805.7 706.1,805.7 707.6,805.4 709.1,804.9 710.6,805.4 712.1,805.5 713.6,805.2 715.1,804.6 716.6,804.6 718.1,803.5 719.6,802.6 721.1,801.9 722.6,802.5 724.1,803.0 725.6,802.3 727.1,802.7 728.6,802.3 730.1,802.7 731.6,801.8 733.1,802.3 734.6,801.8 736.1,801.2 737.6,801.6 739.1,801.6 740.6,800.7 742.1,802.1 743.6,801.2 745.1,800.1 746.6,800.3 748.1,800.7 749.6,799.5 751.1,799.5 752.6,799.3 754.1,799.0 755.6,799.0 757.1,798.5 758.6,797.7 760.1,797.8 761.6,797.4 763.1,796.6 764.6,796.9 766.1,795.9 767.6,795.1 769.1,795.2 770.6,794.9 772.1,794.4 773.6,794.4 775.1,792.9 776.6,793.1 778.1,792.6 779.6,791.8 781.1,792.2 782.6,791.8 784.1,791.0 785.6,791.6 787.1,791.8 788.6,791.4 790.1,790.7 791.6,790.3 793.1,790.4 794.6,790.5 796.1,790.4 797.6,789.6 799.1,789.5 800.6,788.9 802.1,789.5 803.6,789.8 805.1,790.2 806.6,790.2 808.1,790.8 809.6,789.7 811.1,789.5 812.6,789.6 814.1,790.0 815.6,790.7 817.1,790.0 818.6,789.0 820.1,790.2 821.6,790.1 823.1,790.2 824.6,791.7 826.1,791.3 827.6,791.0 829.1,791.9 830.6,792.9 832.1,793.0 833.6,792.8 835.1,793.7 836.6,793.9 838.1,794.2 839.6,794.0 841.1,793.9 842.6,794.2 844.1,794.8 845.6,795.4 847.1,795.0 848.6,795.9 850.1,797.4 851.6,796.2 853.1,796.4 854.6,797.6 856.1,798.3 857.6,798.2 859.1,798.6 860.6,798.1 862.1,799.1 863.6,799.0 865.1,799.4 866.6,799.3 868.1,799.7 869.6,799.0 871.1,799.4 872.6,800.4 874.1,801.0 875.6,801.6 877.1,801.4 878.6,800.4 880.1,801.4 881.6,802.2 883.1,802.6 884.6,802.1 886.1,802.9 887.6,802.2 889.1,803.0 890.6,801.8 892.1,802.8 893.6,803.1 895.1,802.2 896.6,803.0 898.1,803.5 899.6,802.9 901.1,804.4 902.6,804.7 904.1,804.1 905.6,804.3 907.1,803.6 908.6,805.9 910.1,805.6 911.6,805.6 913.1,804.9 914.6,806.2 916.1,805.3 917.6,805.5 919.1,805.5 920.6,805.6 922.1,806.4 923.6,806.3 925.1,805.9 926.6,806.2 928.1,806.3 929.6,807.2 931.1,807.6 932.6,807.1 934.1,807.0 935.6,806.1 937.1,807.0 938.6,806.4 940.1,807.1 941.6,806.9 943.1,808.2 944.6,807.6 946.1,808.1 947.6,808.9 949.1,809.2 950.6,808.6 952.1,809.8 953.6,809.4 955.1,809.7 956.6,809.7 958.1,809.4 959.6,809.5 961.1,809.4 962.6,810.6 964.1,810.6 965.6,809.5 967.1,810.4 968.6,809.4 970.1,809.6 971.6,809.6 973.1,809.7 974.6,809.0 976.1,809.5 977.6,810.0 979.1,808.7 980.6,809.9 982.1,809.6 983.6,809.6 985.1,808.5 986.6,809.1 988.1,808.8 989.6,809.7 991.1,808.6 992.6,808.6 994.1,808.8 995.6,808.5 997.1,808.6 998.6,808.2 1000.1,806.9 1001.6,807.0 1003.1,807.7 1004.6,806.9 1006.1,806.4 1007.6,805.9 1009.1,807.3 1010.6,805.6 1012.1,805.7 1013.6,806.7 1015.1,805.8 1016.6,806.4 1018.1,805.8 1019.6,805.4 1021.1,805.4 1022.6,804.9 1024.1,805.2 1025.6,805.1 1027.1,804.5 1028.6,804.2 1030.1,802.7 1031.6,802.1 1033.1,800.9 1034.6,800.3 1036.1,800.6 1037.6,799.2 1039.1,799.8 1040.6,799.0 1042.1,798.4 1043.6,797.9 1045.1,796.5 1046.6,796.8 1048.1,795.0 1049.6,794.6 1051.1,792.5 1052.6,792.5 1054.1,792.3 1055.6,791.0 1057.1,788.8 1058.6,786.8 1060.1,785.0 1061.6,782.9 1063.1,781.5 1064.6,777.9 1066.1,775.4 1067.6,769.1 1069.1,763.9 1070.6,760.0 1072.1,754.9 1073.6,750.1 1075.1,744.3 1076.6,738.0 1078.1,731.8 1079.6,726.4 1081.1,723.7 1082.6,721.4 1084.1,719.9 1085.6,719.9 1087.1,723.2 1088.6,726.0 1090.1,730.2 1091.6,736.3 1093.1,739.0 1094.6,742.9 1096.1,745.9 1097.6,750.7 1099.1,754.2 1100.6,757.9 1102.1,760.9 1103.6,762.0 1105.1,763.9 1106.6,764.2 1108.1,764.5 1109.6,765.9 1111.1,766.2 1112.6,766.3 1114.1,767.8 1115.6,767.2 1117.1,767.2 1118.6,768.9 1120.1,768.5 1121.6,768.8 1123.1,770.2 1124.6,770.4 1126.1,771.4 1127.6,771.8 1129.1,772.5 1130.6,773.4 1132.1,774.4 1133.6,775.4 1135.1,776.5 1136.6,775.9 1138.1,777.7 1139.6,779.3 1141.1,780.6 1142.6,783.7 1144.1,785.6 1145.6,787.8 1147.1,789.6 1148.6,790.5 1150.1,791.8 1151.6,793.2 1153.1,794.6 1154.6,796.4 1156.1,797.7 1157.6,799.0 1159.1,801.2 1160.6,800.9 1162.1,803.1 1163.6,804.4 1165.1,804.5 1166.6,807.6 1168.1,808.4 1169.6,809.5 1171.1,810.7 1172.6,811.4 1174.1,811.6 1175.6,812.8 1177.1,813.4 1178.6,813.3 1180.1,814.0 1181.6,814.9 1183.1,816.5 1184.6,815.7 1186.1,816.9 1187.6,817.1 1189.1,817.1 1190.6,818.3 1192.1,819.3 1193.6,818.3 1195.1,818.8 1196.6,820.3 1198.1,820.0 1199.6,819.8 1201.1,821.3 1202.6,821.0 1204.1,821.7 1205.6,823.1 1207.1,822.4 1208.6,822.3 1210.1,822.5 1211.6,823.3 1213.1,822.9 1214.6,823.4 1216.1,824.4 1217.6,824.6 1219.1,825.7 1220.6,825.1 1222.1,824.6 1223.6,825.3 1225.1,825.5 1226.6,825.9 1228.1,826.6 1229.6,825.5 1231.1,826.0 1232.6,826.3 1234.1,826.3 1235.6,825.7 1237.1,827.5 1238.6,827.4 1240.1,826.4 1241.6,826.6 1243.1,824.8 1244.6,826.4 1246.1,826.4 1247.6,826.8 1249.1,827.7 1250.6,826.8 1252.1,827.5 1253.6,827.5 1255.1,827.7 1256.6,827.6 1258.1,828.8 1259.6,827.1 1261.1,827.3 1262.6,827.8 1264.1,828.2 1265.6,828.4 1267.1,828.7 1268.6,828.9 1270.1,828.9 1271.6,828.9 1273.1,829.1 1274.6,830.2 1276.1,830.0 1277.6,829.4 1279.1,830.0 1280.6,830.3 1282.1,830.3 1283.6,831.3 1285.1,830.7 1286.6,831.5 1288.1,831.4 1289.6,831.6 1291.1,830.8 1292.6,832.3 1294.1,832.0 1295.6,832.0 1297.1,832.2 1298.6,831.9 1300.1,830.2 1301.6,832.1 1303.1,831.9 1304.6,832.2 1306.1,831.5 1307.6,831.6 1309.1,832.1 1310.6,831.6 1312.1,832.7 1313.6,833.5 1315.1,832.2 1316.6,832.0 1318.1,832.5 1319.6,832.4 1321.1,831.5 1322.6,832.5 1324.1,832.3 1325.6,832.3 1327.1,833.0 1328.6,832.8 1330.1,831.5 1331.6,831.5 1333.1,831.8 1334.6,831.9 1336.1,833.3 1337.6,832.5 1339.1,832.1 1340.6,833.3 1342.1,831.7 1343.6,832.4 1345.1,831.1 1346.6,832.5 1348.1,831.8 1349.6,831.3 1351.1,832.0 1352.6,832.3 1354.1,832.6 1355.6,833.0 1357.1,831.7 1358.6,832.0 1360.1,832.5 1361.6,831.9 1363.1,831.9 1364.6,832.2 1366.1,832.2 1367.6,832.0 1369.1,831.7 1370.6,831.7 1372.1,831.8 1373.6,832.4 1375.1,832.1 1376.6,831.8 1378.1,832.8 1379.6,832.9 1381.1,831.5 1382.6,832.2 1384.1,832.4 1385.6,832.1 1387.1,832.4 1388.6,832.3 1390.1,832.6 1391.6,832.8 1393.1,833.2 1394.6,833.1 1396.1,832.6 1397.6,832.4 1399.1,832.3 1400.6,832.7 1402.1,831.7 1403.6,831.6 1405.1,832.2 1406.6,832.5 1408.1,832.1 1409.6,831.7 1411.1,832.3 1412.6,832.6 1414.1,833.5 1415.6,832.5 1417.1,832.7 1418.6,833.5 1420.1,832.3 1421.6,832.4 1423.1,833.3 1424.6,832.5 1426.1,833.1 1427.6,832.4 1429.1,832.2 1430.6,832.5 1432.1,832.6 1433.6,831.4 1435.1,832.1 1436.6,832.2 1438.1,832.3 1439.6,832.7 1441.1,832.8 1442.6,832.1 1444.1,831.9 1445.6,831.2 1447.1,832.1 1448.6,831.6 1450.1,832.1 1451.6,832.5 1453.1,832.3 1454.6,832.1 1456.1,832.7 1457.6,832.5 1459.1,830.9 1460.6,832.1 1462.1,831.6 1463.6,832.2 1465.1,832.3 1466.6,831.6 1468.1,831.9 1469.6,831.2 1471.1,832.3 1472.6,831.7 1474.1,831.9 1475.6,832.5 1477.1,831.8 1478.6,832.9 1480.1,832.0 1481.6,832.5 1483.1,833.0 1484.6,832.3 1486.1,832.8 1487.6,832.5 1489.1,832.3 1490.6,832.9 1492.1,833.1 1493.6,832.9 1495.1,832.7 1496.6,832.5 1498.1,831.8 1499.6,831.6 1501.1,831.4 1502.6,831.7 1504.1,832.6 1505.6,832.7 1507.1,832.4 1508.6,832.4 1510.1,833.0 1511.6,832.7 1513.1,832.9 1514.6,832.2 1516.1,831.6 1517.6,832.9 1519.1,831.9 1520.6,832.4 1522.1,831.6 1523.6,832.1 1525.1,831.3 1526.6,831.3 1528.1,832.3 1529.6,832.3 1531.1,831.6 1532.6,832.9 1534.1,832.4 1535.6,831.6 1537.1,832.3 1538.6,831.9 1540.1,831.6 1541.6,832.3 1543.1,832.6 1544.6,832.7 1546.1,831.8 1547.6,832.4 1549.1,832.2 1550.6,832.2 1552.1,832.0 1553.6,832.1 1555.1,831.9 1556.6,832.1 1558.1,832.2 1559.6,832.4 1561.1,833.5 1562.6,832.4 1564.1,831.8 1565.6,831.6 1567.1,832.1 1568.6,832.5 1570.1,832.2 1571.6,832.3 1573.1,832.2 1574.6,831.7 1576.1,831.4 1577.6,831.2 1579.1,831.7 1580.6,830.8 1582.1,832.4 1583.6,831.5 1585.1,831.4 1586.6,832.0 1588.1,831.6 1589.6,831.6 1591.1,831.3 1592.6,831.7 1594.1,832.2 1595.6,831.6 1597.1,831.3 1598.6,831.2 1600.1,832.6 1601.6,832.4 1603.1,832.0 1604.6,831.3 1606.1,832.1 1607.6,832.0 1609.1,832.4 1610.6,831.2 1612.1,830.9 1613.6,831.1 1615.1,831.6 1616.6,831.1 1618.1,831.1 1619.6,831.4 1621.1,832.2 1622.6,831.2 1624.1,831.5 1625.6,832.2 1627.1,832.3 1628.6,831.8 1630.1,831.9" fill="none" stroke="#000000" stroke-width="5.2" stroke-linejoin="round" stroke-linecap="butt"/>
<path d="M137.6,684.1 139.1,683.8 140.6,683.2 142.1,684.0 143.6,684.2 145.1,683.6 146.6,683.1 148.1,683.0 149.6,683.9 151.1,683.6 152.6,684.0 154.1,683.8 155.6,684.8 157.1,683.6 158.6,683.2 160.1,683.6 161.6,684.2 163.1,684.2 164.6,683.7 166.1,683.1 167.6,682.8 169.1,684.1 170.6,684.3 172.1,683.4 173.6,684.3 175.1,683.6 176.6,683.8 178.1,683.4 179.6,683.7 181.1,683.7 182.6,683.3 184.1,683.3 185.6,684.3 187.1,683.3 188.6,683.6 190.1,683.5 191.6,682.9 193.1,684.3 194.6,684.4 196.1,683.2 197.6,683.1 199.1,684.1 200.6,683.2 202.1,684.1 203.6,684.1 205.1,684.2 206.6,683.8 208.1,683.2 209.6,683.3 211.1,683.9 212.6,683.6 214.1,684.2 215.6,684.0 217.1,684.5 218.6,684.3 220.1,684.2 221.6,684.6 223.1,684.0 224.6,683.8 226.1,683.4 227.6,683.5 229.1,684.9 230.6,684.3 232.1,683.5 233.6,684.7 235.1,683.4 236.6,683.4 238.1,683.5 239.6,683.7 241.1,683.9 242.6,683.5 244.1,683.5 245.6,683.4 247.1,683.7 248.6,684.0 250.1,684.2 251.6,684.1 253.1,683.3 254.6,684.1 256.1,683.3 257.6,683.1 259.1,683.4 260.6,683.5 262.1,684.1 263.6,684.3 265.1,684.0 266.6,683.7 268.1,683.6 269.6,682.4 271.1,683.9 272.6,683.6 274.1,683.2 275.6,684.0 277.1,684.6 278.6,683.9 280.1,684.0 281.6,684.1 283.1,683.4 284.6,683.8 286.1,683.6 287.6,683.7 289.1,684.8 290.6,684.4 292.1,684.1 293.6,683.8 295.1,683.5 296.6,684.2 298.1,684.2 299.6,684.2 301.1,683.8 302.6,684.1 304.1,684.4 305.6,684.4 307.1,684.7 308.6,684.4 310.1,684.4 311.6,683.3 313.1,683.9 314.6,683.7 316.1,684.7 317.6,684.1 319.1,685.2 320.6,683.7 322.1,683.6 323.6,684.4 325.1,684.5 326.6,684.4 328.1,684.9 329.6,684.3 331.1,683.4 332.6,684.3 334.1,684.0 335.6,684.8 337.1,683.9 338.6,683.6 340.1,683.6 341.6,683.8 343.1,683.9 344.6,684.6 346.1,683.9 347.6,683.9 349.1,684.1 350.6,684.0 352.1,684.5 353.6,685.2 355.1,684.4 356.6,683.5 358.1,683.3 359.6,684.0 361.1,683.1 362.6,683.2 364.1,683.8 365.6,683.9 367.1,682.9 368.6,683.1 370.1,683.8 371.6,684.3 373.1,684.5 374.6,684.2 376.1,683.5 377.6,684.1 379.1,684.2 380.6,684.1 382.1,683.9 383.6,683.4 385.1,683.5 386.6,683.7 388.1,684.4 389.6,683.4 391.1,683.3 392.6,683.4 394.1,683.4 395.6,684.0 397.1,683.3 398.6,683.3 400.1,683.1 401.6,683.4 403.1,682.9 404.6,683.6 406.1,683.7 407.6,683.2 409.1,683.2 410.6,683.2 412.1,683.3 413.6,682.8 415.1,683.6 416.6,683.2 418.1,682.0 419.6,683.3 421.1,682.9 422.6,683.0 424.1,683.6 425.6,683.0 427.1,683.6 428.6,683.3 430.1,682.4 431.6,683.1 433.1,682.6 434.6,682.7 436.1,682.5 437.6,682.4 439.1,682.8 440.6,682.9 442.1,682.9 443.6,682.7 445.1,683.5 446.6,682.7 448.1,683.8 449.6,683.1 451.1,682.2 452.6,682.4 454.1,682.4 455.6,682.8 457.1,681.7 458.6,682.4 460.1,682.6 461.6,682.7 463.1,681.3 464.6,681.6 466.1,681.3 467.6,681.4 469.1,682.0 470.6,682.4 472.1,682.5 473.6,682.3 475.1,681.9 476.6,682.7 478.1,682.0 479.6,681.8 481.1,681.4 482.6,681.4 484.1,680.4 485.6,681.0 487.1,680.6 488.6,680.3 490.1,680.5 491.6,680.9 493.1,680.8 494.6,681.1 496.1,680.6 497.6,681.4 499.1,680.5 500.6,680.3 502.1,680.5 503.6,680.5 505.1,679.6 506.6,679.6 508.1,680.6 509.6,679.8 511.1,679.2 512.6,679.7 514.1,678.4 515.6,679.2 517.1,679.1 518.6,679.5 520.1,679.4 521.6,678.8 523.1,679.4 524.6,679.0 526.1,678.4 527.6,678.7 529.1,678.5 530.6,679.2 532.1,678.8 533.6,679.8 535.1,678.2 536.6,677.3 538.1,678.9 539.6,677.8 541.1,677.2 542.6,677.7 544.1,678.0 545.6,677.7 547.1,678.4 548.6,676.7 550.1,677.4 551.6,676.6 553.1,677.0 554.6,677.8 556.1,676.5 557.6,676.5 559.1,676.8 560.6,677.1 562.1,676.1 563.6,676.5 565.1,676.0 566.6,675.4 568.1,674.8 569.6,675.8 571.1,675.5 572.6,675.2 574.1,674.8 575.6,675.5 577.1,674.6 578.6,674.5 580.1,674.1 581.6,674.5 583.1,673.4 584.6,673.7 586.1,673.2 587.6,672.8 589.1,672.2 590.6,672.2 592.1,672.1 593.6,671.7 595.1,671.8 596.6,671.9 598.1,671.2 599.6,671.5 601.1,671.1 602.6,670.9 604.1,669.9 605.6,670.6 607.1,669.6 608.6,669.3 610.1,668.9 611.6,668.4 613.1,668.7 614.6,669.0 616.1,668.1 617.6,667.8 619.1,668.1 620.6,666.7 622.1,666.5 623.6,665.8 625.1,665.3 626.6,665.6 628.1,665.7 629.6,665.2 631.1,665.9 632.6,666.1 634.1,665.1 635.6,664.6 637.1,664.1 638.6,663.2 640.1,663.8 641.6,663.8 643.1,663.5 644.6,663.6 646.1,664.2 647.6,662.4 649.1,662.6 650.6,662.1 652.1,661.4 653.6,661.0 655.1,661.3 656.6,661.2 658.1,660.5 659.6,660.0 661.1,659.8 662.6,659.5 664.1,659.4 665.6,659.3 667.1,658.8 668.6,658.0 670.1,657.8 671.6,658.0 673.1,658.3 674.6,657.3 676.1,657.6 677.6,657.1 679.1,656.5 680.6,656.6 682.1,655.5 683.6,656.4 685.1,656.9 686.6,655.4 688.1,655.4 689.6,655.3 691.1,653.6 692.6,654.2 694.1,653.8 695.6,653.2 697.1,652.8 698.6,653.6 700.1,653.3 701.6,652.5 703.1,653.1 704.6,651.9 706.1,652.4 707.6,651.4 709.1,651.4 710.6,651.0 712.1,650.6 713.6,650.0 715.1,650.5 716.6,651.2 718.1,650.6 719.6,650.1 721.1,649.4 722.6,649.3 724.1,649.4 725.6,648.4 727.1,648.6 728.6,648.5 730.1,648.5 731.6,648.8 733.1,647.9 734.6,647.2 736.1,648.1 737.6,647.5 739.1,647.5 740.6,646.2 742.1,646.4 743.6,646.7 745.1,646.9 746.6,646.1 748.1,645.7 749.6,645.3 751.1,644.7 752.6,643.6 754.1,643.6 755.6,643.1 757.1,642.3 758.6,641.8 760.1,641.1 761.6,640.1 763.1,640.1 764.6,639.6 766.1,638.6 767.6,637.6 769.1,637.0 770.6,636.8 772.1,637.1 773.6,636.2 775.1,634.3 776.6,634.2 778.1,633.1 779.6,632.4 781.1,631.7 782.6,630.7 784.1,629.3 785.6,628.5 787.1,626.9 788.6,626.9 790.1,626.5 791.6,625.4 793.1,623.8 794.6,623.4 796.1,623.2 797.6,621.4 799.1,621.6 800.6,620.8 802.1,620.5 803.6,620.4 805.1,620.1 806.6,620.3 808.1,620.2 809.6,620.3 811.1,620.6 812.6,620.8 814.1,620.4 815.6,620.9 817.1,620.7 818.6,620.5 820.1,621.1 821.6,621.8 823.1,623.1 824.6,623.9 826.1,625.4 827.6,625.7 829.1,626.4 830.6,626.6 832.1,627.0 833.6,628.7 835.1,629.2 836.6,630.5 838.1,632.1 839.6,632.4 841.1,633.4 842.6,634.6 844.1,636.0 845.6,636.3 847.1,636.9 848.6,636.7 850.1,637.6 851.6,637.7 853.1,638.7 854.6,640.7 856.1,640.7 857.6,641.1 859.1,642.5 860.6,643.4 862.1,644.7 863.6,645.5 865.1,646.5 866.6,647.4 868.1,648.0 869.6,648.5 871.1,648.4 872.6,648.1 874.1,649.7 875.6,650.9 877.1,649.7 878.6,650.9 880.1,652.1 881.6,652.0 883.1,652.0 884.6,652.9 886.1,652.8 887.6,653.0 889.1,653.3 890.6,654.5 892.1,654.7 893.6,654.8 895.1,655.7 896.6,656.4 898.1,655.9 899.6,656.1 901.1,656.5 902.6,656.5 904.1,656.3 905.6,656.0 907.1,656.6 908.6,656.6 910.1,656.4 911.6,657.3 913.1,657.3 914.6,658.2 916.1,657.8 917.6,658.5 919.1,659.4 920.6,659.0 922.1,659.6 923.6,659.4 925.1,659.3 926.6,660.2 928.1,660.8 929.6,660.7 931.1,659.8 932.6,660.0 934.1,660.6 935.6,660.0 937.1,661.4 938.6,660.6 940.1,660.9 941.6,661.0 943.1,660.8 944.6,661.8 946.1,662.3 947.6,662.4 949.1,662.0 950.6,662.5 952.1,662.1 953.6,663.1 955.1,663.2 956.6,662.6 958.1,662.8 959.6,663.2 961.1,663.0 962.6,663.4 964.1,663.6 965.6,663.3 967.1,664.7 968.6,663.2 970.1,663.7 971.6,664.3 973.1,664.6 974.6,663.9 976.1,664.4 977.6,664.2 979.1,663.8 980.6,665.2 982.1,663.9 983.6,663.3 985.1,664.0 986.6,664.5 988.1,664.3 989.6,663.8 991.1,664.1 992.6,664.3 994.1,663.8 995.6,663.4 997.1,663.2 998.6,663.5 1000.1,663.8 1001.6,662.7 1003.1,662.4 1004.6,664.4 1006.1,663.3 1007.6,662.8 1009.1,662.6 1010.6,663.0 1012.1,662.8 1013.6,662.2 1015.1,663.0 1016.6,663.0 1018.1,662.3 1019.6,662.4 1021.1,661.8 1022.6,661.7 1024.1,661.1 1025.6,661.3 1027.1,661.5 1028.6,661.9 1030.1,660.8 1031.6,661.5 1033.1,661.0 1034.6,661.0 1036.1,660.6 1037.6,660.3 1039.1,659.7 1040.6,659.6 1042.1,659.7 1043.6,659.8 1045.1,659.8 1046.6,658.6 1048.1,657.8 1049.6,657.3 1051.1,656.8 1052.6,656.5 1054.1,655.8 1055.6,655.1 1057.1,654.3 1058.6,654.4 1060.1,652.6 1061.6,651.8 1063.1,651.2 1064.6,650.0 1066.1,648.2 1067.6,647.7 1069.1,646.2 1070.6,644.3 1072.1,642.5 1073.6,640.1 1075.1,637.1 1076.6,635.0 1078.1,632.0 1079.6,629.4 1081.1,626.8 1082.6,624.2 1084.1,619.6 1085.6,615.7 1087.1,610.7 1088.6,604.9 1090.1,598.6 1091.6,590.6 1093.1,583.4 1094.6,576.8 1096.1,571.6 1097.6,568.0 1099.1,565.0 1100.6,562.5 1102.1,561.9 1103.6,565.6 1105.1,568.6 1106.6,570.8 1108.1,571.8 1109.6,574.9 1111.1,579.7 1112.6,581.3 1114.1,583.2 1115.6,583.9 1117.1,585.1 1118.6,585.9 1120.1,585.5 1121.6,586.1 1123.1,585.6 1124.6,586.4 1126.1,587.4 1127.6,587.8 1129.1,587.7 1130.6,588.5 1132.1,589.9 1133.6,591.4 1135.1,593.0 1136.6,594.8 1138.1,597.5 1139.6,599.6 1141.1,602.5 1142.6,604.7 1144.1,607.9 1145.6,610.9 1147.1,611.7 1148.6,614.0 1150.1,616.9 1151.6,620.5 1153.1,624.1 1154.6,627.1 1156.1,631.1 1157.6,635.9 1159.1,638.6 1160.6,642.3 1162.1,645.5 1163.6,647.4 1165.1,649.9 1166.6,652.1 1168.1,654.6 1169.6,655.5 1171.1,657.6 1172.6,657.7 1174.1,659.3 1175.6,661.0 1177.1,661.9 1178.6,663.0 1180.1,664.4 1181.6,664.5 1183.1,666.2 1184.6,666.2 1186.1,666.8 1187.6,668.1 1189.1,668.0 1190.6,669.6 1192.1,670.3 1193.6,670.3 1195.1,671.7 1196.6,671.5 1198.1,672.1 1199.6,672.7 1201.1,673.4 1202.6,673.6 1204.1,674.4 1205.6,675.8 1207.1,675.9 1208.6,675.9 1210.1,675.8 1211.6,675.6 1213.1,675.3 1214.6,676.0 1216.1,676.8 1217.6,677.0 1219.1,676.7 1220.6,676.9 1222.1,676.8 1223.6,677.2 1225.1,676.1 1226.6,677.0 1228.1,677.5 1229.6,676.6 1231.1,676.8 1232.6,677.2 1234.1,677.4 1235.6,677.3 1237.1,677.5 1238.6,677.1 1240.1,676.7 1241.6,676.9 1243.1,677.5 1244.6,678.3 1246.1,676.9 1247.6,678.2 1249.1,678.4 1250.6,677.8 1252.1,677.9 1253.6,677.2 1255.1,677.3 1256.6,678.1 1258.1,677.8 1259.6,678.6 1261.1,678.2 1262.6,678.7 1264.1,678.6 1265.6,678.9 1267.1,680.0 1268.6,679.3 1270.1,680.2 1271.6,679.1 1273.1,679.8 1274.6,679.6 1276.1,678.7 1277.6,679.4 1279.1,679.3 1280.6,679.7 1282.1,680.5 1283.6,680.3 1285.1,680.1 1286.6,680.7 1288.1,680.6 1289.6,680.0 1291.1,680.8 1292.6,681.0 1294.1,681.4 1295.6,680.8 1297.1,681.1 1298.6,681.1 1300.1,680.8 1301.6,680.9 1303.1,681.3 1304.6,681.8 1306.1,681.6 1307.6,681.3 1309.1,681.0 1310.6,681.4 1312.1,682.6 1313.6,682.5 1315.1,682.2 1316.6,681.3 1318.1,681.0 1319.6,681.9 1321.1,681.7 1322.6,682.4 1324.1,681.6 1325.6,681.0 1327.1,682.1 1328.6,681.4 1330.1,681.8 1331.6,682.3 1333.1,681.4 1334.6,682.9 1336.1,681.6 1337.6,682.2 1339.1,683.4 1340.6,682.4 1342.1,683.0 1343.6,683.0 1345.1,682.3 1346.6,682.5 1348.1,682.6 1349.6,682.5 1351.1,682.9 1352.6,681.8 1354.1,683.3 1355.6,683.0 1357.1,682.7 1358.6,682.4 1360.1,682.6 1361.6,682.7 1363.1,682.6 1364.6,682.9 1366.1,683.5 1367.6,683.0 1369.1,682.8 1370.6,682.7 1372.1,682.9 1373.6,682.9 1375.1,682.7 1376.6,682.7 1378.1,682.1 1379.6,682.2 1381.1,683.1 1382.6,683.0 1384.1,683.1 1385.6,682.5 1387.1,682.3 1388.6,682.6 1390.1,682.4 1391.6,682.5 1393.1,682.2 1394.6,682.6 1396.1,683.8 1397.6,683.6 1399.1,683.8 1400.6,683.3 1402.1,682.5 1403.6,683.0 1405.1,682.8 1406.6,682.5 1408.1,682.4 1409.6,682.8 1411.1,682.9 1412.6,682.9 1414.1,682.8 1415.6,683.0 1417.1,683.1 1418.6,682.8 1420.1,682.7 1421.6,682.4 1423.1,683.6 1424.6,683.4 1426.1,683.0 1427.6,683.6 1429.1,683.7 1430.6,682.8 1432.1,683.6 1433.6,683.0 1435.1,683.4 1436.6,683.4 1438.1,683.4 1439.6,683.8 1441.1,683.7 1442.6,683.6 1444.1,682.5 1445.6,682.6 1447.1,682.2 1448.6,682.1 1450.1,682.9 1451.6,683.9 1453.1,682.8 1454.6,683.2 1456.1,682.4 1457.6,682.8 1459.1,683.2 1460.6,682.2 1462.1,682.8 1463.6,682.8 1465.1,683.1 1466.6,683.5 1468.1,683.0 1469.6,683.7 1471.1,683.3 1472.6,683.5 1474.1,683.3 1475.6,683.6 1477.1,683.9 1478.6,684.1 1480.1,683.8 1481.6,684.0 1483.1,683.1 1484.6,683.3 1486.1,684.2 1487.6,684.0 1489.1,683.7 1490.6,683.4 1492.1,682.6 1493.6,683.6 1495.1,683.2 1496.6,682.7 1498.1,683.3 1499.6,683.4 1501.1,683.1 1502.6,683.0 1504.1,683.9 1505.6,683.6 1507.1,683.3 1508.6,683.2 1510.1,683.0 1511.6,682.4 1513.1,683.7 1514.6,683.7 1516.1,683.3 1517.6,684.3 1519.1,684.5 1520.6,682.6 1522.1,682.7 1523.6,683.6 1525.1,683.6 1526.6,683.5 1528.1,683.5 1529.6,682.8 1531.1,682.8 1532.6,683.1 1534.1,682.4 1535.6,683.5 1537.1,683.2 1538.6,683.1 1540.1,683.0 1541.6,683.2 1543.1,683.5 1544.6,683.4 1546.1,683.8 1547.6,684.0 1549.1,683.8 1550.6,682.6 1552.1,683.2 1553.6,683.8 1555.1,683.7 1556.6,683.0 1558.1,683.4 1559.6,683.2 1561.1,683.9 1562.6,683.0 1564.1,684.0 1565.6,683.6 1567.1,683.2 1568.6,683.5 1570.1,683.0 1571.6,683.0 1573.1,684.2 1574.6,684.1 1576.1,683.9 1577.6,683.7 1579.1,683.4 1580.6,682.4 1582.1,682.1 1583.6,682.9 1585.1,683.5 1586.6,684.3 1588.1,683.9 1589.6,683.5 1591.1,683.1 1592.6,683.2 1594.1,682.8 1595.6,683.6 1597.1,683.9 1598.6,683.7 1600.1,683.5 1601.6,683.0 1603.1,683.2 1604.6,682.3 1606.1,682.7 1607.6,682.8 1609.1,683.7 1610.6,682.1 1612.1,683.4 1613.6,684.1 1615.1,684.1 1616.6,683.3 1618.1,683.5 1619.6,684.0 1621.1,683.9 1622.6,683.4 1624.1,682.6 1625.6,683.3 1627.1,684.0 1628.6,683.1 1630.1,683.3" fill="none" stroke="#ff0000" stroke-width="5.9" stroke-linejoin="round" stroke-linecap="butt"/>
<path d="M137.6,545.4 139.1,546.0 140.6,544.9 142.1,545.1 143.6,546.1 145.1,544.9 146.6,545.1 148.1,545.2 149.6,545.6 151.1,545.6 152.6,545.5 154.1,544.7 155.6,546.5 157.1,545.3 158.6,545.8 160.1,546.0 161.6,544.8 163.1,545.1 164.6,544.8 166.1,545.8 167.6,544.9 169.1,546.0 170.6,546.3 172.1,545.9 173.6,545.3 175.1,545.4 176.6,544.9 178.1,545.2 179.6,546.7 181.1,544.8 182.6,545.1 184.1,545.5 185.6,546.0 187.1,545.3 188.6,545.8 190.1,545.7 191.6,545.9 193.1,544.8 194.6,544.5 196.1,545.9 197.6,545.8 199.1,545.8 200.6,545.6 202.1,545.2 203.6,545.9 205.1,545.5 206.6,545.0 208.1,545.2 209.6,545.0 211.1,545.6 212.6,545.6 214.1,545.1 215.6,545.6 217.1,546.6 218.6,545.3 220.1,546.6 221.6,545.4 223.1,545.6 224.6,546.1 226.1,546.4 227.6,545.0 229.1,545.2 230.6,546.3 232.1,546.5 233.6,544.8 235.1,545.1 236.6,546.0 238.1,545.5 239.6,546.1 241.1,546.5 242.6,544.3 244.1,545.6 245.6,546.8 247.1,545.9 248.6,546.4 250.1,546.5 251.6,545.4 253.1,546.3 254.6,545.7 256.1,546.5 257.6,545.1 259.1,546.5 260.6,544.2 262.1,545.9 263.6,545.9 265.1,546.4 266.6,546.6 268.1,546.3 269.6,546.4 271.1,546.7 272.6,546.4 274.1,544.5 275.6,544.9 277.1,545.8 278.6,545.2 280.1,545.9 281.6,546.0 283.1,545.8 284.6,546.8 286.1,546.2 287.6,545.9 289.1,545.8 290.6,545.7 292.1,545.9 293.6,546.1 295.1,546.4 296.6,547.2 298.1,546.4 299.6,546.2 301.1,546.2 302.6,545.9 304.1,546.1 305.6,546.5 307.1,546.1 308.6,546.6 310.1,547.2 311.6,545.9 313.1,545.9 314.6,546.3 316.1,545.4 317.6,546.7 319.1,546.5 320.6,546.3 322.1,547.0 323.6,545.2 325.1,545.4 326.6,546.0 328.1,546.6 329.6,546.0 331.1,546.6 332.6,546.3 334.1,545.9 335.6,546.9 337.1,546.7 338.6,546.9 340.1,546.1 341.6,545.6 343.1,546.0 344.6,545.4 346.1,545.2 347.6,545.0 349.1,544.9 350.6,543.9 352.1,546.4 353.6,545.5 355.1,545.3 356.6,544.9 358.1,545.7 359.6,545.5 361.1,544.8 362.6,544.6 364.1,544.4 365.6,545.6 367.1,545.1 368.6,544.9 370.1,543.8 371.6,544.5 373.1,544.4 374.6,544.6 376.1,544.3 377.6,543.4 379.1,543.6 380.6,543.6 382.1,545.3 383.6,544.2 385.1,542.5 386.6,544.4 388.1,543.6 389.6,543.3 391.1,543.7 392.6,543.7 394.1,543.5 395.6,542.0 397.1,543.5 398.6,543.6 400.1,542.2 401.6,543.0 403.1,542.5 404.6,542.0 406.1,542.1 407.6,542.2 409.1,541.9 410.6,541.6 412.1,541.4 413.6,541.5 415.1,541.2 416.6,540.9 418.1,541.7 419.6,543.2 421.1,541.7 422.6,542.6 424.1,540.4 425.6,542.2 427.1,542.3 428.6,541.1 430.1,542.7 431.6,540.2 433.1,541.3 434.6,540.8 436.1,541.8 437.6,540.0 439.1,542.3 440.6,541.7 442.1,541.3 443.6,541.5 445.1,541.7 446.6,541.1 448.1,540.0 449.6,541.2 451.1,540.5 452.6,540.9 454.1,541.0 455.6,540.8 457.1,540.2 458.6,539.2 460.1,539.4 461.6,539.0 463.1,540.0 464.6,540.7 466.1,539.2 467.6,538.7 469.1,539.0 470.6,538.6 472.1,538.8 473.6,538.1 475.1,538.5 476.6,538.2 478.1,538.1 479.6,537.7 481.1,537.7 482.6,538.7 484.1,537.0 485.6,536.2 487.1,535.9 488.6,536.4 490.1,535.2 491.6,535.9 493.1,535.2 494.6,535.1 496.1,535.8 497.6,534.9 499.1,535.2 500.6,535.8 502.1,535.1 503.6,534.3 505.1,533.9 506.6,533.3 508.1,533.6 509.6,534.7 511.1,534.1 512.6,534.2 514.1,534.0 515.6,533.1 517.1,533.7 518.6,532.5 520.1,533.2 521.6,533.1 523.1,533.8 524.6,533.5 526.1,532.6 527.6,532.9 529.1,533.0 530.6,533.2 532.1,532.1 533.6,532.0 535.1,531.3 536.6,531.2 538.1,531.4 539.6,531.6 541.1,530.2 542.6,530.0 544.1,530.9 545.6,529.8 547.1,531.0 548.6,529.9 550.1,529.2 551.6,528.1 553.1,529.6 554.6,528.4 556.1,527.2 557.6,526.6 559.1,527.2 560.6,525.8 562.1,526.6 563.6,525.3 565.1,524.3 566.6,523.7 568.1,523.7 569.6,523.8 571.1,522.3 572.6,522.3 574.1,521.2 575.6,521.2 577.1,520.2 578.6,520.9 580.1,519.7 581.6,518.8 583.1,518.1 584.6,518.2 586.1,518.0 587.6,516.7 589.1,515.8 590.6,516.0 592.1,515.6 593.6,514.4 595.1,515.3 596.6,514.3 598.1,514.2 599.6,514.1 601.1,511.7 602.6,511.9 604.1,511.9 605.6,511.4 607.1,512.0 608.6,511.5 610.1,510.8 611.6,509.4 613.1,509.5 614.6,509.7 616.1,508.6 617.6,508.5 619.1,508.5 620.6,507.7 622.1,507.3 623.6,506.3 625.1,506.3 626.6,504.8 628.1,503.3 629.6,503.8 631.1,503.7 632.6,502.8 634.1,502.3 635.6,500.6 637.1,499.8 638.6,499.5 640.1,498.6 641.6,499.3 643.1,499.5 644.6,498.1 646.1,497.9 647.6,497.8 649.1,496.8 650.6,495.3 652.1,494.4 653.6,493.7 655.1,493.9 656.6,493.0 658.1,492.5 659.6,491.4 661.1,491.4 662.6,490.6 664.1,490.3 665.6,488.4 667.1,488.6 668.6,487.4 670.1,486.8 671.6,487.2 673.1,484.1 674.6,484.3 676.1,484.3 677.6,483.3 679.1,483.6 680.6,482.4 682.1,481.4 683.6,480.0 685.1,480.6 686.6,479.5 688.1,478.7 689.6,479.0 691.1,477.3 692.6,478.1 694.1,477.6 695.6,476.5 697.1,475.7 698.6,474.4 700.1,474.6 701.6,473.4 703.1,473.5 704.6,472.8 706.1,472.9 707.6,473.5 709.1,473.7 710.6,474.0 712.1,474.2 713.6,473.1 715.1,471.6 716.6,472.6 718.1,472.4 719.6,471.3 721.1,471.9 722.6,470.6 724.1,469.4 725.6,468.6 727.1,468.2 728.6,468.5 730.1,467.7 731.6,466.7 733.1,467.9 734.6,466.8 736.1,466.3 737.6,466.8 739.1,466.0 740.6,464.8 742.1,463.7 743.6,464.0 745.1,463.9 746.6,463.4 748.1,462.4 749.6,461.6 751.1,461.4 752.6,460.2 754.1,459.1 755.6,459.0 757.1,456.8 758.6,455.3 760.1,454.3 761.6,453.8 763.1,452.6 764.6,451.2 766.1,451.1 767.6,449.1 769.1,448.1 770.6,447.3 772.1,447.0 773.6,446.3 775.1,445.2 776.6,443.2 778.1,444.2 779.6,443.1 781.1,440.7 782.6,440.3 784.1,439.1 785.6,438.1 787.1,437.7 788.6,436.5 790.1,435.4 791.6,433.0 793.1,433.3 794.6,431.2 796.1,429.8 797.6,430.6 799.1,429.8 800.6,428.3 802.1,428.4 803.6,427.5 805.1,427.0 806.6,427.4 808.1,426.9 809.6,427.0 811.1,428.4 812.6,428.9 814.1,428.6 815.6,430.1 817.1,431.0 818.6,431.5 820.1,432.1 821.6,432.0 823.1,433.3 824.6,435.1 826.1,436.0 827.6,437.4 829.1,437.6 830.6,439.0 832.1,439.0 833.6,439.1 835.1,438.5 836.6,440.0 838.1,441.7 839.6,441.5 841.1,443.7 842.6,444.4 844.1,446.1 845.6,446.3 847.1,448.3 848.6,449.1 850.1,449.7 851.6,451.3 853.1,452.7 854.6,452.9 856.1,453.2 857.6,453.8 859.1,455.8 860.6,456.8 862.1,456.9 863.6,458.3 865.1,458.5 866.6,459.1 868.1,461.1 869.6,462.8 871.1,463.7 872.6,463.2 874.1,464.8 875.6,466.7 877.1,466.1 878.6,467.6 880.1,468.9 881.6,469.0 883.1,469.8 884.6,469.8 886.1,471.0 887.6,471.8 889.1,472.8 890.6,474.9 892.1,474.9 893.6,475.3 895.1,475.8 896.6,476.2 898.1,476.9 899.6,476.8 901.1,478.8 902.6,478.1 904.1,479.5 905.6,480.0 907.1,479.9 908.6,480.3 910.1,480.2 911.6,481.8 913.1,482.1 914.6,481.6 916.1,482.8 917.6,482.9 919.1,482.1 920.6,483.9 922.1,483.2 923.6,484.6 925.1,484.5 926.6,486.1 928.1,485.2 929.6,485.5 931.1,487.3 932.6,486.7 934.1,487.9 935.6,488.5 937.1,488.1 938.6,489.0 940.1,490.5 941.6,490.0 943.1,489.9 944.6,489.6 946.1,491.2 947.6,490.7 949.1,491.6 950.6,491.0 952.1,491.7 953.6,492.4 955.1,492.7 956.6,493.6 958.1,494.3 959.6,494.4 961.1,494.2 962.6,494.7 964.1,494.3 965.6,495.6 967.1,496.0 968.6,494.7 970.1,496.6 971.6,496.7 973.1,495.9 974.6,496.1 976.1,495.7 977.6,496.6 979.1,497.6 980.6,497.5 982.1,496.9 983.6,496.1 985.1,497.7 986.6,496.1 988.1,496.5 989.6,495.5 991.1,495.2 992.6,496.1 994.1,494.3 995.6,494.4 997.1,495.3 998.6,494.2 1000.1,494.8 1001.6,493.6 1003.1,493.8 1004.6,494.9 1006.1,494.7 1007.6,494.4 1009.1,493.1 1010.6,492.9 1012.1,492.6 1013.6,493.5 1015.1,493.0 1016.6,494.2 1018.1,493.2 1019.6,492.6 1021.1,492.8 1022.6,491.8 1024.1,491.2 1025.6,490.6 1027.1,490.4 1028.6,490.7 1030.1,490.1 1031.6,490.1 1033.1,489.7 1034.6,489.4 1036.1,488.7 1037.6,488.5 1039.1,486.1 1040.6,485.7 1042.1,485.5 1043.6,484.3 1045.1,485.2 1046.6,483.4 1048.1,481.7 1049.6,479.6 1051.1,477.8 1052.6,477.6 1054.1,476.5 1055.6,475.2 1057.1,475.1 1058.6,473.3 1060.1,471.0 1061.6,469.3 1063.1,468.3 1064.6,464.4 1066.1,461.7 1067.6,459.3 1069.1,456.5 1070.6,452.4 1072.1,450.4 1073.6,446.3 1075.1,442.6 1076.6,439.5 1078.1,435.2 1079.6,429.8 1081.1,424.6 1082.6,419.1 1084.1,412.2 1085.6,405.0 1087.1,396.9 1088.6,387.5 1090.1,378.5 1091.6,370.9 1093.1,362.6 1094.6,360.1 1096.1,358.0 1097.6,355.2 1099.1,355.3 1100.6,353.7 1102.1,353.2 1103.6,355.5 1105.1,356.7 1106.6,358.9 1108.1,360.0 1109.6,359.7 1111.1,358.8 1112.6,357.4 1114.1,357.5 1115.6,355.8 1117.1,354.6 1118.6,353.3 1120.1,353.1 1121.6,352.9 1123.1,353.9 1124.6,354.3 1126.1,358.1 1127.6,357.8 1129.1,360.4 1130.6,363.0 1132.1,366.8 1133.6,370.9 1135.1,375.0 1136.6,377.6 1138.1,382.0 1139.6,387.3 1141.1,393.3 1142.6,398.1 1144.1,404.9 1145.6,410.1 1147.1,413.3 1148.6,418.9 1150.1,424.8 1151.6,432.5 1153.1,438.9 1154.6,444.6 1156.1,450.7 1157.6,455.3 1159.1,458.6 1160.6,462.6 1162.1,468.7 1163.6,472.5 1165.1,476.2 1166.6,480.3 1168.1,482.7 1169.6,485.4 1171.1,486.9 1172.6,489.3 1174.1,491.7 1175.6,493.3 1177.1,495.1 1178.6,499.2 1180.1,500.4 1181.6,503.1 1183.1,505.3 1184.6,507.4 1186.1,508.0 1187.6,509.5 1189.1,510.5 1190.6,512.9 1192.1,512.6 1193.6,512.8 1195.1,514.7 1196.6,515.7 1198.1,516.9 1199.6,517.3 1201.1,518.8 1202.6,518.8 1204.1,520.0 1205.6,521.1 1207.1,521.9 1208.6,523.7 1210.1,523.7 1211.6,524.5 1213.1,524.9 1214.6,524.6 1216.1,526.0 1217.6,526.2 1219.1,527.1 1220.6,527.2 1222.1,526.2 1223.6,526.6 1225.1,527.4 1226.6,526.9 1228.1,527.6 1229.6,527.4 1231.1,527.5 1232.6,528.8 1234.1,527.7 1235.6,528.7 1237.1,530.1 1238.6,528.8 1240.1,529.4 1241.6,529.9 1243.1,528.6 1244.6,528.5 1246.1,529.5 1247.6,529.8 1249.1,529.9 1250.6,529.9 1252.1,530.1 1253.6,530.9 1255.1,531.3 1256.6,531.8 1258.1,530.7 1259.6,531.7 1261.1,531.7 1262.6,532.8 1264.1,532.6 1265.6,533.3 1267.1,533.9 1268.6,535.3 1270.1,534.6 1271.6,536.4 1273.1,536.4 1274.6,536.6 1276.1,536.9 1277.6,536.1 1279.1,537.5 1280.6,537.7 1282.1,537.2 1283.6,538.9 1285.1,539.3 1286.6,539.2 1288.1,538.8 1289.6,539.2 1291.1,539.4 1292.6,539.7 1294.1,540.0 1295.6,540.8 1297.1,539.9 1298.6,540.6 1300.1,540.9 1301.6,539.5 1303.1,540.8 1304.6,541.6 1306.1,540.2 1307.6,541.0 1309.1,540.6 1310.6,540.9 1312.1,540.6 1313.6,540.5 1315.1,541.0 1316.6,541.9 1318.1,541.7 1319.6,541.8 1321.1,543.0 1322.6,542.5 1324.1,541.7 1325.6,543.3 1327.1,541.8 1328.6,542.5 1330.1,541.8 1331.6,542.9 1333.1,542.9 1334.6,541.9 1336.1,541.7 1337.6,542.9 1339.1,542.1 1340.6,542.6 1342.1,542.8 1343.6,542.0 1345.1,542.3 1346.6,541.6 1348.1,543.8 1349.6,542.8 1351.1,543.4 1352.6,542.8 1354.1,542.9 1355.6,543.1 1357.1,542.9 1358.6,543.0 1360.1,543.9 1361.6,543.6 1363.1,543.3 1364.6,543.6 1366.1,542.4 1367.6,544.1 1369.1,543.5 1370.6,543.5 1372.1,543.7 1373.6,544.1 1375.1,543.6 1376.6,543.9 1378.1,543.7 1379.6,544.1 1381.1,544.7 1382.6,543.3 1384.1,544.3 1385.6,544.1 1387.1,543.5 1388.6,544.3 1390.1,545.4 1391.6,544.9 1393.1,544.8 1394.6,543.9 1396.1,544.2 1397.6,543.7 1399.1,544.3 1400.6,543.8 1402.1,544.2 1403.6,544.2 1405.1,544.6 1406.6,544.3 1408.1,544.0 1409.6,543.6 1411.1,544.1 1412.6,543.5 1414.1,544.2 1415.6,543.5 1417.1,543.6 1418.6,544.4 1420.1,544.3 1421.6,544.2 1423.1,543.4 1424.6,544.1 1426.1,544.1 1427.6,544.6 1429.1,544.2 1430.6,544.3 1432.1,544.2 1433.6,543.5 1435.1,544.5 1436.6,544.2 1438.1,543.0 1439.6,544.6 1441.1,544.2 1442.6,544.3 1444.1,544.5 1445.6,544.7 1447.1,544.3 1448.6,544.6 1450.1,543.7 1451.6,544.4 1453.1,544.6 1454.6,543.9 1456.1,544.9 1457.6,544.6 1459.1,544.8 1460.6,544.4 1462.1,544.3 1463.6,545.1 1465.1,544.0 1466.6,543.5 1468.1,544.3 1469.6,544.5 1471.1,544.9 1472.6,544.7 1474.1,544.7 1475.6,545.3 1477.1,544.7 1478.6,544.3 1480.1,544.3 1481.6,544.4 1483.1,544.0 1484.6,543.5 1486.1,543.8 1487.6,543.7 1489.1,545.2 1490.6,543.6 1492.1,544.3 1493.6,543.6 1495.1,544.1 1496.6,543.1 1498.1,543.8 1499.6,543.2 1501.1,544.4 1502.6,544.0 1504.1,543.5 1505.6,545.4 1507.1,545.0 1508.6,544.3 1510.1,544.7 1511.6,544.4 1513.1,544.9 1514.6,544.7 1516.1,543.5 1517.6,544.6 1519.1,544.4 1520.6,544.6 1522.1,545.4 1523.6,546.1 1525.1,544.8 1526.6,545.7 1528.1,544.6 1529.6,546.2 1531.1,545.1 1532.6,545.6 1534.1,544.5 1535.6,545.4 1537.1,544.6 1538.6,545.1 1540.1,544.2 1541.6,545.4 1543.1,545.3 1544.6,545.0 1546.1,544.9 1547.6,545.3 1549.1,544.5 1550.6,545.1 1552.1,545.3 1553.6,545.1 1555.1,545.3 1556.6,545.4 1558.1,546.2 1559.6,546.1 1561.1,545.7 1562.6,545.6 1564.1,545.4 1565.6,545.7 1567.1,545.3 1568.6,545.1 1570.1,545.3 1571.6,545.4 1573.1,545.3 1574.6,544.8 1576.1,545.0 1577.6,544.7 1579.1,545.2 1580.6,546.6 1582.1,546.0 1583.6,545.1 1585.1,544.1 1586.6,544.3 1588.1,544.3 1589.6,544.7 1591.1,545.1 1592.6,544.1 1594.1,544.6 1595.6,544.1 1597.1,545.6 1598.6,544.4 1600.1,545.9 1601.6,546.0 1603.1,545.1 1604.6,544.8 1606.1,544.0 1607.6,545.2 1609.1,545.6 1610.6,545.6 1612.1,545.1 1613.6,544.7 1615.1,544.3 1616.6,545.8 1618.1,545.7 1619.6,545.9 1621.1,546.6 1622.6,545.1 1624.1,546.4 1625.6,545.9 1627.1,544.3 1628.6,545.2 1630.1,545.5" fill="none" stroke="#ff00ff" stroke-width="5.9" stroke-linejoin="round" stroke-linecap="butt"/>
<path d="M137.6,357.6 139.1,355.4 140.6,358.0 142.1,357.4 143.6,356.2 145.1,357.2 146.6,358.6 148.1,358.9 149.6,358.7 151.1,358.3 152.6,357.9 154.1,357.4 155.6,358.9 157.1,357.0 158.6,360.2 160.1,359.0 161.6,358.9 163.1,358.9 164.6,358.3 166.1,358.2 167.6,359.3 169.1,359.2 170.6,360.5 172.1,360.2 173.6,359.9 175.1,361.4 176.6,359.2 178.1,359.9 179.6,359.4 181.1,361.1 182.6,358.5 184.1,358.9 185.6,359.2 187.1,360.5 188.6,358.8 190.1,359.6 191.6,359.8 193.1,359.7 194.6,360.2 196.1,359.8 197.6,359.1 199.1,359.4 200.6,359.1 202.1,358.4 203.6,358.8 205.1,358.3 206.6,360.1 208.1,360.5 209.6,359.5 211.1,359.0 212.6,358.8 214.1,360.0 215.6,360.0 217.1,358.1 218.6,359.3 220.1,359.6 221.6,360.5 223.1,358.5 224.6,358.8 226.1,357.9 227.6,359.2 229.1,359.1 230.6,359.1 232.1,359.3 233.6,358.7 235.1,360.0 236.6,359.4 238.1,358.1 239.6,358.9 241.1,358.2 242.6,358.1 244.1,357.7 245.6,356.2 247.1,356.8 248.6,355.7 250.1,357.0 251.6,356.5 253.1,357.3 254.6,358.3 256.1,356.6 257.6,358.1 259.1,358.4 260.6,358.3 262.1,358.7 263.6,356.2 265.1,358.5 266.6,357.2 268.1,356.6 269.6,358.0 271.1,358.2 272.6,357.2 274.1,357.7 275.6,357.0 277.1,356.9 278.6,356.9 280.1,356.6 281.6,358.0 283.1,357.1 284.6,356.5 286.1,357.1 287.6,357.2 289.1,357.7 290.6,356.2 292.1,356.9 293.6,357.5 295.1,356.4 296.6,355.0 298.1,358.3 299.6,356.5 301.1,356.9 302.6,355.6 304.1,357.3 305.6,356.4 307.1,359.0 308.6,358.9 310.1,358.5 311.6,357.6 313.1,357.1 314.6,356.2 316.1,356.3 317.6,356.8 319.1,356.0 320.6,356.7 322.1,355.7 323.6,357.0 325.1,355.7 326.6,356.3 328.1,355.6 329.6,356.8 331.1,355.3 332.6,356.0 334.1,355.9 335.6,357.5 337.1,357.1 338.6,355.9 340.1,355.6 341.6,356.2 343.1,355.3 344.6,354.9 346.1,355.9 347.6,354.3 349.1,355.4 350.6,355.6 352.1,355.1 353.6,355.0 355.1,354.6 356.6,356.0 358.1,354.2 359.6,353.5 361.1,355.3 362.6,353.0 364.1,353.0 365.6,352.2 367.1,352.3 368.6,353.3 370.1,353.5 371.6,353.1 373.1,352.4 374.6,351.9 376.1,351.1 377.6,350.8 379.1,350.9 380.6,350.3 382.1,350.0 383.6,351.4 385.1,351.8 386.6,351.3 388.1,350.7 389.6,349.0 391.1,349.3 392.6,348.9 394.1,349.1 395.6,349.3 397.1,351.6 398.6,349.5 400.1,350.3 401.6,350.5 403.1,348.7 404.6,349.0 406.1,349.4 407.6,349.4 409.1,349.1 410.6,347.7 412.1,348.7 413.6,348.7 415.1,348.6 416.6,348.2 418.1,348.5 419.6,346.4 421.1,346.2 422.6,348.1 424.1,346.3 425.6,348.5 427.1,346.9 428.6,345.9 430.1,346.4 431.6,345.9 433.1,344.3 434.6,344.6 436.1,343.5 437.6,344.5 439.1,344.0 440.6,344.3 442.1,343.4 443.6,343.0 445.1,342.4 446.6,342.2 448.1,343.1 449.6,343.2 451.1,341.7 452.6,341.4 454.1,342.1 455.6,341.2 457.1,339.8 458.6,340.0 460.1,340.9 461.6,340.4 463.1,340.3 464.6,339.9 466.1,339.2 467.6,339.9 469.1,339.4 470.6,337.4 472.1,337.0 473.6,336.5 475.1,336.9 476.6,336.5 478.1,336.8 479.6,337.0 481.1,336.5 482.6,336.0 484.1,334.9 485.6,334.9 487.1,334.3 488.6,334.5 490.1,334.3 491.6,334.4 493.1,333.2 494.6,334.1 496.1,333.1 497.6,333.0 499.1,332.8 500.6,333.0 502.1,332.2 503.6,331.3 505.1,331.5 506.6,330.3 508.1,329.9 509.6,330.2 511.1,330.1 512.6,330.6 514.1,331.3 515.6,329.4 517.1,329.0 518.6,328.2 520.1,328.5 521.6,329.0 523.1,327.2 524.6,327.4 526.1,327.9 527.6,326.7 529.1,327.3 530.6,325.8 532.1,327.1 533.6,324.5 535.1,327.0 536.6,325.4 538.1,326.2 539.6,325.7 541.1,325.6 542.6,325.1 544.1,325.0 545.6,325.3 547.1,324.9 548.6,323.9 550.1,324.0 551.6,322.1 553.1,322.4 554.6,323.9 556.1,322.7 557.6,321.2 559.1,321.2 560.6,319.3 562.1,319.4 563.6,318.0 565.1,319.9 566.6,317.9 568.1,317.5 569.6,316.4 571.1,316.7 572.6,314.9 574.1,315.3 575.6,315.4 577.1,315.9 578.6,313.3 580.1,314.1 581.6,313.5 583.1,312.5 584.6,312.7 586.1,311.1 587.6,310.7 589.1,310.3 590.6,309.8 592.1,307.9 593.6,307.6 595.1,308.0 596.6,306.5 598.1,306.1 599.6,306.3 601.1,303.4 602.6,303.2 604.1,303.8 605.6,302.3 607.1,302.4 608.6,301.9 610.1,301.1 611.6,300.5 613.1,300.8 614.6,300.4 616.1,299.4 617.6,297.5 619.1,297.7 620.6,295.7 622.1,296.8 623.6,295.2 625.1,295.1 626.6,292.7 628.1,292.7 629.6,291.8 631.1,291.2 632.6,291.3 634.1,291.0 635.6,290.9 637.1,290.1 638.6,289.9 640.1,290.1 641.6,287.4 643.1,285.8 644.6,285.1 646.1,284.0 647.6,284.4 649.1,282.9 650.6,283.0 652.1,282.5 653.6,281.7 655.1,280.4 656.6,278.6 658.1,278.6 659.6,276.7 661.1,276.6 662.6,275.9 664.1,276.2 665.6,275.8 667.1,275.7 668.6,274.7 670.1,276.0 671.6,273.5 673.1,273.3 674.6,272.0 676.1,272.1 677.6,269.1 679.1,269.5 680.6,269.0 682.1,266.6 683.6,267.4 685.1,266.9 686.6,264.2 688.1,265.3 689.6,262.4 691.1,263.6 692.6,262.1 694.1,260.7 695.6,260.2 697.1,258.1 698.6,259.3 700.1,257.9 701.6,257.9 703.1,257.8 704.6,258.1 706.1,255.2 707.6,255.2 709.1,253.5 710.6,253.3 712.1,253.4 713.6,251.9 715.1,252.5 716.6,249.6 718.1,249.5 719.6,249.1 721.1,247.8 722.6,248.2 724.1,246.2 725.6,246.3 727.1,245.4 728.6,244.7 730.1,242.7 731.6,241.0 733.1,240.2 734.6,239.6 736.1,238.8 737.6,236.4 739.1,236.9 740.6,234.8 742.1,234.4 743.6,233.7 745.1,233.1 746.6,233.2 748.1,231.6 749.6,231.4 751.1,229.6 752.6,229.6 754.1,227.8 755.6,225.6 757.1,225.3 758.6,224.3 760.1,225.1 761.6,222.4 763.1,219.8 764.6,217.9 766.1,215.8 767.6,215.9 769.1,213.8 770.6,212.1 772.1,211.8 773.6,210.5 775.1,209.0 776.6,207.4 778.1,207.4 779.6,205.4 781.1,206.6 782.6,205.5 784.1,205.0 785.6,204.3 787.1,204.6 788.6,203.5 790.1,203.8 791.6,205.4 793.1,203.2 794.6,203.4 796.1,203.1 797.6,203.0 799.1,200.4 800.6,200.5 802.1,200.9 803.6,201.4 805.1,202.8 806.6,202.5 808.1,203.7 809.6,203.2 811.1,203.5 812.6,202.1 814.1,200.3 815.6,199.8 817.1,196.9 818.6,198.2 820.1,197.9 821.6,198.6 823.1,200.1 824.6,200.9 826.1,203.0 827.6,203.4 829.1,204.0 830.6,203.8 832.1,204.9 833.6,203.0 835.1,204.3 836.6,205.5 838.1,204.2 839.6,205.9 841.1,205.6 842.6,206.6 844.1,208.4 845.6,208.3 847.1,210.4 848.6,210.8 850.1,212.1 851.6,212.3 853.1,214.9 854.6,214.3 856.1,214.5 857.6,214.4 859.1,215.5 860.6,218.0 862.1,217.8 863.6,218.1 865.1,217.8 866.6,219.8 868.1,221.1 869.6,221.4 871.1,221.5 872.6,223.2 874.1,222.0 875.6,223.8 877.1,225.3 878.6,226.4 880.1,227.4 881.6,228.5 883.1,228.0 884.6,229.0 886.1,231.0 887.6,230.2 889.1,231.1 890.6,231.9 892.1,232.3 893.6,233.3 895.1,233.1 896.6,233.4 898.1,233.5 899.6,234.7 901.1,235.1 902.6,235.5 904.1,236.8 905.6,238.7 907.1,238.7 908.6,240.3 910.1,239.5 911.6,240.2 913.1,242.5 914.6,242.7 916.1,244.2 917.6,244.2 919.1,245.8 920.6,244.4 922.1,245.9 923.6,244.2 925.1,246.5 926.6,247.2 928.1,247.9 929.6,247.1 931.1,248.2 932.6,248.5 934.1,248.2 935.6,249.4 937.1,250.5 938.6,252.3 940.1,250.0 941.6,250.6 943.1,251.7 944.6,251.3 946.1,250.8 947.6,252.2 949.1,252.2 950.6,253.4 952.1,253.4 953.6,253.1 955.1,254.5 956.6,253.6 958.1,254.2 959.6,255.1 961.1,256.8 962.6,255.9 964.1,256.3 965.6,256.4 967.1,257.1 968.6,257.3 970.1,255.5 971.6,255.5 973.1,254.9 974.6,257.7 976.1,254.7 977.6,256.2 979.1,256.9 980.6,257.4 982.1,255.7 983.6,255.6 985.1,256.2 986.6,254.1 988.1,253.4 989.6,254.1 991.1,254.1 992.6,254.8 994.1,253.3 995.6,251.7 997.1,253.2 998.6,253.7 1000.1,253.2 1001.6,252.3 1003.1,252.5 1004.6,252.4 1006.1,251.6 1007.6,250.1 1009.1,249.9 1010.6,251.1 1012.1,247.9 1013.6,248.7 1015.1,248.9 1016.6,248.7 1018.1,247.9 1019.6,247.6 1021.1,247.6 1022.6,245.7 1024.1,245.6 1025.6,244.3 1027.1,243.5 1028.6,243.1 1030.1,240.9 1031.6,239.9 1033.1,238.8 1034.6,238.0 1036.1,237.5 1037.6,235.8 1039.1,235.1 1040.6,233.5 1042.1,231.2 1043.6,231.2 1045.1,229.3 1046.6,228.8 1048.1,227.8 1049.6,225.9 1051.1,225.0 1052.6,224.4 1054.1,221.7 1055.6,220.4 1057.1,220.3 1058.6,217.1 1060.1,216.1 1061.6,215.1 1063.1,213.0 1064.6,210.8 1066.1,209.6 1067.6,206.6 1069.1,204.9 1070.6,202.3 1072.1,202.2 1073.6,199.3 1075.1,198.8 1076.6,196.8 1078.1,193.5 1079.6,193.1 1081.1,190.4 1082.6,187.5 1084.1,185.9 1085.6,184.5 1087.1,179.8 1088.6,178.5 1090.1,176.5 1091.6,176.3 1093.1,173.5 1094.6,172.5 1096.1,170.1 1097.6,168.4 1099.1,162.2 1100.6,162.4 1102.1,162.8 1103.6,162.5 1105.1,162.1 1106.6,162.6 1108.1,161.4 1109.6,160.4 1111.1,159.7 1112.6,160.1 1114.1,159.4 1115.6,160.0 1117.1,160.2 1118.6,159.2 1120.1,159.4 1121.6,160.7 1123.1,160.5 1124.6,160.0 1126.1,164.1 1127.6,167.0 1129.1,168.8 1130.6,171.4 1132.1,176.0 1133.6,177.6 1135.1,178.6 1136.6,180.8 1138.1,182.4 1139.6,185.5 1141.1,190.2 1142.6,197.1 1144.1,202.7 1145.6,208.6 1147.1,212.8 1148.6,216.3 1150.1,219.1 1151.6,222.9 1153.1,227.6 1154.6,232.8 1156.1,237.2 1157.6,241.2 1159.1,245.6 1160.6,249.6 1162.1,252.7 1163.6,257.9 1165.1,261.0 1166.6,264.6 1168.1,266.7 1169.6,270.1 1171.1,272.5 1172.6,275.1 1174.1,278.4 1175.6,280.5 1177.1,283.3 1178.6,286.3 1180.1,288.7 1181.6,289.8 1183.1,289.7 1184.6,293.4 1186.1,295.0 1187.6,296.3 1189.1,297.7 1190.6,299.3 1192.1,302.0 1193.6,303.9 1195.1,304.7 1196.6,308.7 1198.1,309.5 1199.6,312.0 1201.1,313.5 1202.6,314.0 1204.1,315.8 1205.6,317.3 1207.1,316.9 1208.6,319.3 1210.1,318.9 1211.6,321.7 1213.1,322.8 1214.6,324.0 1216.1,324.1 1217.6,325.4 1219.1,327.8 1220.6,328.9 1222.1,329.0 1223.6,329.3 1225.1,329.0 1226.6,332.0 1228.1,331.7 1229.6,331.5 1231.1,333.9 1232.6,335.1 1234.1,334.2 1235.6,335.2 1237.1,335.1 1238.6,335.1 1240.1,335.9 1241.6,336.8 1243.1,338.6 1244.6,339.0 1246.1,339.9 1247.6,339.5 1249.1,340.5 1250.6,339.6 1252.1,341.2 1253.6,341.4 1255.1,341.3 1256.6,340.9 1258.1,343.2 1259.6,343.4 1261.1,343.8 1262.6,343.6 1264.1,344.2 1265.6,345.6 1267.1,345.1 1268.6,344.7 1270.1,344.2 1271.6,345.0 1273.1,346.5 1274.6,346.9 1276.1,348.0 1277.6,347.5 1279.1,348.4 1280.6,348.7 1282.1,348.7 1283.6,349.3 1285.1,349.9 1286.6,349.3 1288.1,348.9 1289.6,349.0 1291.1,351.7 1292.6,351.9 1294.1,350.7 1295.6,351.3 1297.1,352.5 1298.6,351.6 1300.1,352.3 1301.6,352.0 1303.1,352.7 1304.6,352.6 1306.1,350.8 1307.6,350.3 1309.1,352.3 1310.6,352.5 1312.1,351.9 1313.6,352.1 1315.1,353.0 1316.6,352.4 1318.1,351.8 1319.6,354.4 1321.1,352.4 1322.6,352.8 1324.1,352.2 1325.6,353.5 1327.1,353.8 1328.6,353.9 1330.1,353.0 1331.6,354.1 1333.1,352.4 1334.6,355.3 1336.1,353.9 1337.6,355.1 1339.1,355.1 1340.6,355.6 1342.1,354.8 1343.6,356.6 1345.1,355.8 1346.6,354.3 1348.1,355.3 1349.6,353.9 1351.1,354.1 1352.6,355.9 1354.1,354.5 1355.6,355.5 1357.1,354.9 1358.6,355.1 1360.1,355.4 1361.6,355.4 1363.1,353.9 1364.6,354.0 1366.1,355.8 1367.6,356.2 1369.1,358.1 1370.6,357.8 1372.1,356.1 1373.6,354.6 1375.1,355.7 1376.6,356.2 1378.1,356.9 1379.6,357.4 1381.1,357.3 1382.6,359.1 1384.1,357.8 1385.6,358.3 1387.1,357.5 1388.6,356.7 1390.1,356.4 1391.6,358.2 1393.1,357.4 1394.6,358.1 1396.1,357.0 1397.6,359.2 1399.1,358.7 1400.6,358.9 1402.1,357.8 1403.6,359.6 1405.1,359.1 1406.6,356.9 1408.1,358.1 1409.6,359.1 1411.1,360.1 1412.6,357.9 1414.1,358.6 1415.6,357.4 1417.1,359.4 1418.6,359.5 1420.1,358.6 1421.6,360.1 1423.1,359.7 1424.6,360.1 1426.1,358.7 1427.6,357.7 1429.1,359.9 1430.6,358.6 1432.1,358.1 1433.6,359.0 1435.1,357.8 1436.6,359.2 1438.1,358.4 1439.6,359.7 1441.1,359.4 1442.6,359.7 1444.1,359.4 1445.6,358.5 1447.1,357.7 1448.6,358.3 1450.1,359.1 1451.6,360.0 1453.1,358.7 1454.6,359.8 1456.1,359.6 1457.6,359.6 1459.1,359.8 1460.6,358.7 1462.1,358.8 1463.6,359.6 1465.1,358.9 1466.6,358.7 1468.1,358.7 1469.6,359.0 1471.1,358.4 1472.6,359.0 1474.1,359.4 1475.6,358.3 1477.1,358.9 1478.6,357.7 1480.1,357.3 1481.6,359.7 1483.1,358.3 1484.6,358.0 1486.1,357.2 1487.6,357.1 1489.1,357.3 1490.6,358.2 1492.1,358.3 1493.6,356.7 1495.1,356.5 1496.6,356.9 1498.1,357.4 1499.6,357.2 1501.1,356.9 1502.6,356.3 1504.1,358.1 1505.6,357.4 1507.1,357.6 1508.6,357.6 1510.1,357.6 1511.6,358.1 1513.1,356.7 1514.6,357.9 1516.1,359.5 1517.6,357.9 1519.1,358.5 1520.6,358.2 1522.1,359.5 1523.6,358.5 1525.1,358.9 1526.6,358.6 1528.1,358.3 1529.6,359.0 1531.1,358.8 1532.6,360.5 1534.1,360.2 1535.6,361.3 1537.1,360.4 1538.6,359.6 1540.1,360.0 1541.6,360.3 1543.1,358.8 1544.6,360.1 1546.1,360.0 1547.6,361.3 1549.1,361.6 1550.6,359.4 1552.1,360.3 1553.6,359.3 1555.1,359.8 1556.6,358.7 1558.1,359.6 1559.6,360.1 1561.1,360.7 1562.6,360.7 1564.1,359.7 1565.6,359.3 1567.1,358.4 1568.6,359.7 1570.1,359.8 1571.6,359.8 1573.1,359.0 1574.6,358.9 1576.1,360.9 1577.6,359.6 1579.1,359.4 1580.6,358.4 1582.1,358.8 1583.6,358.5 1585.1,359.6 1586.6,359.6 1588.1,360.6 1589.6,360.0 1591.1,358.7 1592.6,358.9 1594.1,358.5 1595.6,358.5 1597.1,358.5 1598.6,357.4 1600.1,357.8 1601.6,357.9 1603.1,358.1 1604.6,358.5 1606.1,357.8 1607.6,358.2 1609.1,356.8 1610.6,358.0 1612.1,358.1 1613.6,358.7 1615.1,358.7 1616.6,357.0 1618.1,357.1 1619.6,357.0 1621.1,355.9 1622.6,356.4 1624.1,356.0 1625.6,356.2 1627.1,357.0 1628.6,356.0 1630.1,357.7" fill="none" stroke="#00ffff" stroke-width="5.9" stroke-linejoin="round" stroke-linecap="butt"/>
</g>
<path d="M140.60,1153.5V1175M264.49,1153.5V1165M388.38,1153.5V1175M512.27,1153.5V1165M636.17,1153.5V1175M760.06,1153.5V1165M883.95,1153.5V1175M1007.84,1153.5V1165M1131.73,1153.5V1175M1255.62,1153.5V1165M1379.52,1153.5V1175M1503.41,1153.5V1165M1627.30,1153.5V1175" fill="none" stroke="#000" stroke-width="4.4" stroke-linecap="round"/>
<text class="t" transform="translate(63.55,1244.35) scale(1.0,1.04)">800</text>
<text class="t" transform="translate(311.97,1244.35) scale(1.0,1.04)">1000</text>
<text class="t" transform="translate(560.45,1244.35) scale(1.0,1.04)">1200</text>
<text class="t" transform="translate(806.98,1244.35) scale(1.0,1.04)">1400</text>
<text class="t" transform="translate(1055.45,1244.35) scale(1.0,1.04)">1600</text>
<text class="t" transform="translate(1302.64,1244.35) scale(1.0,1.04)">1800</text>
<text class="t" transform="translate(1548.48,1244.35) scale(1.0,1.04)">2000</text>
<text class="t" transform="translate(1431.96,343.3) scale(1.0,1.03)">0 wt%</text>
<text class="t" transform="translate(1401.04,526.6) scale(1.0,1.03)">20 wt%</text>
<text class="t" transform="translate(1402.76,673.5) scale(1.0,1.03)">40 wt%</text>
<text class="t" transform="translate(1398.61,818.85) scale(1.0,1.03)">60 wt%</text>
<text class="t" transform="translate(1393.39,944.15) scale(1.0,1.03)">80 wt%</text>
<text class="t" transform="translate(1357.88,1083.7) scale(1.0,1.03)">100 wt%</text>
<text class="t" transform="translate(595.1,196.85) scale(1.0,1.02)">D4</text>
<text class="t" transform="translate(688.94,146.75) scale(1.0,1.02)">D1</text>
<text class="t" transform="translate(885.0,166.75) scale(1.0,1.02)">D3</text>
<text class="t" transform="translate(988.5,124.8) scale(1.0,1.02)">G</text>
<text class="t" transform="translate(1257.5,142.3) scale(1.0,1.02)">D2</text>
<line x1="654.5" y1="202.5" x2="685.3" y2="224.5" stroke="#000" stroke-width="3.7" stroke-linecap="round"/><polygon points="703.0,237.1 678.1,227.7 686.0,216.7" fill="#000" stroke="#000" stroke-width="3.8" stroke-linejoin="round"/>
<line x1="745.8" y1="155.8" x2="768.8" y2="174.9" stroke="#000" stroke-width="3.7" stroke-linecap="round"/><polygon points="785.5,188.8 761.5,177.6 770.1,167.2" fill="#000" stroke="#000" stroke-width="3.8" stroke-linejoin="round"/>
<line x1="945.0" y1="185.0" x2="962.0" y2="217.4" stroke="#000" stroke-width="3.7" stroke-linecap="round"/><polygon points="972.1,236.6 954.2,217.0 966.1,210.7" fill="#000" stroke="#000" stroke-width="3.8" stroke-linejoin="round"/>
<line x1="1045.8" y1="127.5" x2="1069.0" y2="142.8" stroke="#000" stroke-width="3.7" stroke-linecap="round"/><polygon points="1087.2,154.7 1062.0,146.2 1069.4,135.0" fill="#000" stroke="#000" stroke-width="3.8" stroke-linejoin="round"/>
<line x1="1245.0" y1="135.0" x2="1179.7" y2="177.8" stroke="#000" stroke-width="3.7" stroke-linecap="round"/><polygon points="1161.6,189.7 1179.4,170.0 1186.8,181.3" fill="#000" stroke="#000" stroke-width="3.8" stroke-linejoin="round"/>
<text class="t" transform="translate(701.3,1339.5) scale(1.004,1.02)">Raman shift (cm<tspan class="s" dy="-36.5">−1</tspan><tspan dy="36.5">)</tspan></text>
<text class="t" transform="translate(93.6,853.2) rotate(-90) scale(1.017,1.035)">Intensity (a.u.)</text>
</svg>
</body>
</html>
